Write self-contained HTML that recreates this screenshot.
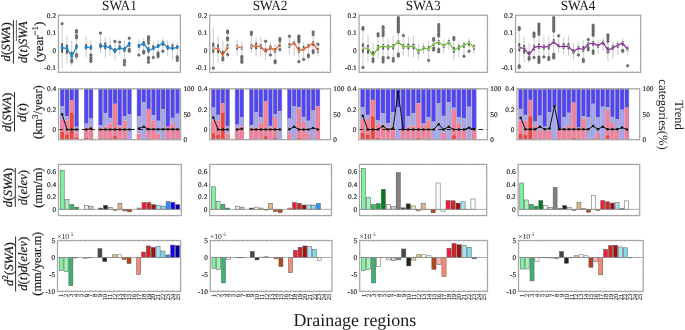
<!DOCTYPE html>
<html><head><meta charset="utf-8"><style>
html,body{margin:0;padding:0;background:#fff;}
body{width:685px;height:330px;overflow:hidden;}
svg{display:block;will-change:transform;text-rendering:geometricPrecision;}
</style></head><body>
<svg xmlns="http://www.w3.org/2000/svg" width="685" height="330" viewBox="0 0 685 330" font-family='"Liberation Serif", serif' fill="#1a1a1a"><rect width="685" height="330" fill="#fff"/><g><path d="M62.1 26.5V68.2M66.9 35.3V63.4M71.7 41V66M76.5 30V60M86.09 35.8V57.6M90.89 40.4V62.2M100.49 33.1V53M105.29 36.7V57.6M110.09 37.6V55.8M114.89 41.3V59.5M119.69 42.2V55M124.49 40V58M129.29 38.2V52M138.89 39.5V52M143.69 37.6V50M148.48 36.7V57M153.28 42V56M158.08 40V52M162.88 37V50M167.68 40V56M172.48 42V60M177.28 42V55" stroke="#c4c4c4" stroke-width="0.9" fill="none"/><rect x="61.1" y="43" width="2.0" height="10" rx="0.8" fill="#5e5e5e"/><circle cx="62.1" cy="23.8" r="1.25" fill="#7c7c7c" stroke="#484848" stroke-width="0.55"/><rect x="65.9" y="44.5" width="2.0" height="9.5" rx="0.8" fill="#5e5e5e"/><rect x="70.7" y="51.5" width="2.0" height="4" rx="0.8" fill="#5e5e5e"/><circle cx="71.7" cy="59.9" r="1.25" fill="#7c7c7c" stroke="#484848" stroke-width="0.55"/><circle cx="71.7" cy="61.8" r="1.25" fill="#7c7c7c" stroke="#484848" stroke-width="0.55"/><rect x="75.5" y="44" width="2.0" height="5" rx="0.8" fill="#5e5e5e"/><circle cx="76.5" cy="30.6" r="1.25" fill="#7c7c7c" stroke="#484848" stroke-width="0.55"/><circle cx="76.5" cy="32.3" r="1.25" fill="#7c7c7c" stroke="#484848" stroke-width="0.55"/><circle cx="76.5" cy="35.8" r="1.25" fill="#7c7c7c" stroke="#484848" stroke-width="0.55"/><circle cx="76.5" cy="37.8" r="1.25" fill="#7c7c7c" stroke="#484848" stroke-width="0.55"/><circle cx="76.5" cy="54.6" r="1.25" fill="#7c7c7c" stroke="#484848" stroke-width="0.55"/><circle cx="76.5" cy="56.3" r="1.25" fill="#7c7c7c" stroke="#484848" stroke-width="0.55"/><rect x="85.09" y="44" width="2.0" height="5.5" rx="0.8" fill="#5e5e5e"/><rect x="89.89" y="45" width="2.0" height="5" rx="0.8" fill="#5e5e5e"/><circle cx="90.89" cy="55" r="1.25" fill="#7c7c7c" stroke="#484848" stroke-width="0.55"/><circle cx="90.89" cy="57.5" r="1.25" fill="#7c7c7c" stroke="#484848" stroke-width="0.55"/><circle cx="90.89" cy="59.5" r="1.25" fill="#7c7c7c" stroke="#484848" stroke-width="0.55"/><circle cx="90.89" cy="61.5" r="1.25" fill="#7c7c7c" stroke="#484848" stroke-width="0.55"/><rect x="99.49" y="43" width="2.0" height="5.5" rx="0.8" fill="#5e5e5e"/><circle cx="100.49" cy="33.1" r="1.25" fill="#7c7c7c" stroke="#484848" stroke-width="0.55"/><rect x="104.29" y="42.2" width="2.0" height="7.3" rx="0.8" fill="#5e5e5e"/><rect x="109.09" y="45" width="2.0" height="4.5" rx="0.8" fill="#5e5e5e"/><rect x="113.89" y="48" width="2.0" height="5" rx="0.8" fill="#5e5e5e"/><circle cx="114.89" cy="41.3" r="1.25" fill="#7c7c7c" stroke="#484848" stroke-width="0.55"/><rect x="118.69" y="45" width="2.0" height="5" rx="0.8" fill="#5e5e5e"/><circle cx="119.69" cy="42.2" r="1.25" fill="#7c7c7c" stroke="#484848" stroke-width="0.55"/><rect x="123.49" y="47" width="2.0" height="5" rx="0.8" fill="#5e5e5e"/><circle cx="124.49" cy="60.4" r="1.25" fill="#7c7c7c" stroke="#484848" stroke-width="0.55"/><circle cx="124.49" cy="62.5" r="1.25" fill="#7c7c7c" stroke="#484848" stroke-width="0.55"/><circle cx="124.49" cy="64.9" r="1.25" fill="#7c7c7c" stroke="#484848" stroke-width="0.55"/><rect x="128.29" y="42" width="2.0" height="5" rx="0.8" fill="#5e5e5e"/><circle cx="129.29" cy="38.2" r="1.25" fill="#7c7c7c" stroke="#484848" stroke-width="0.55"/><circle cx="129.29" cy="49.5" r="1.25" fill="#7c7c7c" stroke="#484848" stroke-width="0.55"/><circle cx="129.29" cy="51.3" r="1.25" fill="#7c7c7c" stroke="#484848" stroke-width="0.55"/><rect x="137.89" y="44" width="2.0" height="4" rx="0.8" fill="#5e5e5e"/><circle cx="138.89" cy="55" r="1.25" fill="#7c7c7c" stroke="#484848" stroke-width="0.55"/><rect x="142.69" y="41" width="2.0" height="5" rx="0.8" fill="#5e5e5e"/><circle cx="143.69" cy="51.3" r="1.25" fill="#7c7c7c" stroke="#484848" stroke-width="0.55"/><circle cx="143.69" cy="53" r="1.25" fill="#7c7c7c" stroke="#484848" stroke-width="0.55"/><rect x="147.48" y="47" width="2.0" height="6" rx="0.8" fill="#5e5e5e"/><circle cx="148.48" cy="36.7" r="1.25" fill="#7c7c7c" stroke="#484848" stroke-width="0.55"/><circle cx="148.48" cy="38.5" r="1.25" fill="#7c7c7c" stroke="#484848" stroke-width="0.55"/><circle cx="148.48" cy="40.5" r="1.25" fill="#7c7c7c" stroke="#484848" stroke-width="0.55"/><circle cx="148.48" cy="43.1" r="1.25" fill="#7c7c7c" stroke="#484848" stroke-width="0.55"/><circle cx="148.48" cy="57.6" r="1.25" fill="#7c7c7c" stroke="#484848" stroke-width="0.55"/><circle cx="148.48" cy="59.5" r="1.25" fill="#7c7c7c" stroke="#484848" stroke-width="0.55"/><circle cx="148.48" cy="62.2" r="1.25" fill="#7c7c7c" stroke="#484848" stroke-width="0.55"/><rect x="152.28" y="45" width="2.0" height="5" rx="0.8" fill="#5e5e5e"/><circle cx="153.28" cy="57.6" r="1.25" fill="#7c7c7c" stroke="#484848" stroke-width="0.55"/><rect x="157.08" y="44" width="2.0" height="4" rx="0.8" fill="#5e5e5e"/><circle cx="158.08" cy="53" r="1.25" fill="#7c7c7c" stroke="#484848" stroke-width="0.55"/><circle cx="158.08" cy="55" r="1.25" fill="#7c7c7c" stroke="#484848" stroke-width="0.55"/><circle cx="158.08" cy="56.7" r="1.25" fill="#7c7c7c" stroke="#484848" stroke-width="0.55"/><rect x="161.88" y="41" width="2.0" height="5" rx="0.8" fill="#5e5e5e"/><circle cx="162.88" cy="51.3" r="1.25" fill="#7c7c7c" stroke="#484848" stroke-width="0.55"/><rect x="166.68" y="45" width="2.0" height="5" rx="0.8" fill="#5e5e5e"/><rect x="171.48" y="44" width="2.0" height="6" rx="0.8" fill="#5e5e5e"/><rect x="176.28" y="45" width="2.0" height="4" rx="0.8" fill="#5e5e5e"/><circle cx="177.28" cy="56.7" r="1.25" fill="#7c7c7c" stroke="#484848" stroke-width="0.55"/><circle cx="177.28" cy="58.5" r="1.25" fill="#7c7c7c" stroke="#484848" stroke-width="0.55"/><circle cx="177.28" cy="60.4" r="1.25" fill="#7c7c7c" stroke="#484848" stroke-width="0.55"/><polyline points="62.1,47.8 66.9,48.3 71.7,56.8 76.5,46.7" fill="none" stroke="#1a86cf" stroke-width="1.3" stroke-linejoin="round"/><circle cx="62.1" cy="47.8" r="1.45" fill="#1a86cf"/><circle cx="66.9" cy="48.3" r="1.45" fill="#1a86cf"/><circle cx="71.7" cy="56.8" r="1.45" fill="#1a86cf"/><circle cx="76.5" cy="46.7" r="1.45" fill="#1a86cf"/><polyline points="86.09,47.2 90.89,47.8" fill="none" stroke="#1a86cf" stroke-width="1.3" stroke-linejoin="round"/><circle cx="86.09" cy="47.2" r="1.45" fill="#1a86cf"/><circle cx="90.89" cy="47.8" r="1.45" fill="#1a86cf"/><polyline points="100.49,45.8 105.29,46.4 110.09,47.6 114.89,51.3 119.69,47.6 124.49,49.5 129.29,43.5" fill="none" stroke="#1a86cf" stroke-width="1.3" stroke-linejoin="round"/><circle cx="100.49" cy="45.8" r="1.45" fill="#1a86cf"/><circle cx="105.29" cy="46.4" r="1.45" fill="#1a86cf"/><circle cx="110.09" cy="47.6" r="1.45" fill="#1a86cf"/><circle cx="114.89" cy="51.3" r="1.45" fill="#1a86cf"/><circle cx="119.69" cy="47.6" r="1.45" fill="#1a86cf"/><circle cx="124.49" cy="49.5" r="1.45" fill="#1a86cf"/><circle cx="129.29" cy="43.5" r="1.45" fill="#1a86cf"/><polyline points="138.89,45.8 143.69,43.1 148.48,50.4 153.28,48.5 158.08,46.2 162.88,43.1 167.68,47.6 172.48,48.5 177.28,47.3" fill="none" stroke="#1a86cf" stroke-width="1.3" stroke-linejoin="round"/><circle cx="138.89" cy="45.8" r="1.45" fill="#1a86cf"/><circle cx="143.69" cy="43.1" r="1.45" fill="#1a86cf"/><circle cx="148.48" cy="50.4" r="1.45" fill="#1a86cf"/><circle cx="153.28" cy="48.5" r="1.45" fill="#1a86cf"/><circle cx="158.08" cy="46.2" r="1.45" fill="#1a86cf"/><circle cx="162.88" cy="43.1" r="1.45" fill="#1a86cf"/><circle cx="167.68" cy="47.6" r="1.45" fill="#1a86cf"/><circle cx="172.48" cy="48.5" r="1.45" fill="#1a86cf"/><circle cx="177.28" cy="47.3" r="1.45" fill="#1a86cf"/></g><rect x="58.45" y="15.2" width="121.95" height="57.2" fill="none" stroke="#a6a6a6" stroke-width="1.25"/><path d="M62.1 72.4v-1.2M62.1 15.2v1.2M66.9 72.4v-1.2M66.9 15.2v1.2M71.7 72.4v-1.2M71.7 15.2v1.2M76.5 72.4v-1.2M76.5 15.2v1.2M81.29 72.4v-1.2M81.29 15.2v1.2M86.09 72.4v-1.2M86.09 15.2v1.2M90.89 72.4v-1.2M90.89 15.2v1.2M95.69 72.4v-1.2M95.69 15.2v1.2M100.49 72.4v-1.2M100.49 15.2v1.2M105.29 72.4v-1.2M105.29 15.2v1.2M110.09 72.4v-1.2M110.09 15.2v1.2M114.89 72.4v-1.2M114.89 15.2v1.2M119.69 72.4v-1.2M119.69 15.2v1.2M124.49 72.4v-1.2M124.49 15.2v1.2M129.29 72.4v-1.2M129.29 15.2v1.2M134.09 72.4v-1.2M134.09 15.2v1.2M138.89 72.4v-1.2M138.89 15.2v1.2M143.69 72.4v-1.2M143.69 15.2v1.2M148.48 72.4v-1.2M148.48 15.2v1.2M153.28 72.4v-1.2M153.28 15.2v1.2M158.08 72.4v-1.2M158.08 15.2v1.2M162.88 72.4v-1.2M162.88 15.2v1.2M167.68 72.4v-1.2M167.68 15.2v1.2M172.48 72.4v-1.2M172.48 15.2v1.2M177.28 72.4v-1.2M177.28 15.2v1.2M58.45 15.2h1.2M180.4 15.2h-1.2M58.45 32.8h1.2M180.4 32.8h-1.2M58.45 50.4h1.2M180.4 50.4h-1.2M58.45 68h1.2M180.4 68h-1.2" stroke="#a6a6a6" stroke-width="0.6" fill="none"/><text transform="translate(56.05,17.65) scale(1.05,1)" text-anchor="end" font-size="7.0" stroke="#1a1a1a" stroke-width="0.16">0.2</text><text transform="translate(56.05,35.25) scale(1.05,1)" text-anchor="end" font-size="7.0" stroke="#1a1a1a" stroke-width="0.16">0.1</text><text transform="translate(56.05,52.85) scale(1.05,1)" text-anchor="end" font-size="7.0" stroke="#1a1a1a" stroke-width="0.16">0</text><text transform="translate(56.05,70.45) scale(1.05,1)" text-anchor="end" font-size="7.0" stroke="#1a1a1a" stroke-width="0.16">-0.1</text><text transform="translate(119.43,10.35) scale(0.955,1)" text-anchor="middle" font-size="14.0">SWA1</text><rect x="60.16" y="88.8" width="3.99" height="17.4" fill="#5143f7"/><rect x="60.16" y="106.2" width="3.99" height="13.1" fill="#a7a6f4"/><rect x="60.16" y="119.3" width="3.99" height="12.4" fill="#fc7c9e"/><rect x="60.16" y="131.7" width="3.99" height="8" fill="#f5433f"/><rect x="60.16" y="88.8" width="3.99" height="50.9" fill="none" stroke="#8c8c8c" stroke-width="0.45"/><rect x="64.96" y="88.8" width="3.99" height="27.3" fill="#5143f7"/><rect x="64.96" y="116.1" width="3.99" height="4.4" fill="#a7a6f4"/><rect x="64.96" y="120.5" width="3.99" height="13.7" fill="#fc7c9e"/><rect x="64.96" y="134.2" width="3.99" height="5.5" fill="#f5433f"/><rect x="64.96" y="88.8" width="3.99" height="50.9" fill="none" stroke="#8c8c8c" stroke-width="0.45"/><rect x="69.77" y="88.8" width="3.99" height="11.2" fill="#5143f7"/><rect x="69.77" y="100" width="3.99" height="12.4" fill="#fc7c9e"/><rect x="69.77" y="112.4" width="3.99" height="27.3" fill="#f5433f"/><rect x="69.77" y="88.8" width="3.99" height="50.9" fill="none" stroke="#8c8c8c" stroke-width="0.45"/><rect x="74.57" y="88.8" width="3.99" height="37.9" fill="#5143f7"/><rect x="74.57" y="126.7" width="3.99" height="5.8" fill="#a7a6f4"/><rect x="74.57" y="132.5" width="3.99" height="4.8" fill="#fc7c9e"/><rect x="74.57" y="137.3" width="3.99" height="2.4" fill="#f5433f"/><rect x="74.57" y="88.8" width="3.99" height="50.9" fill="none" stroke="#8c8c8c" stroke-width="0.45"/><rect x="84.18" y="88.8" width="3.99" height="34.8" fill="#5143f7"/><rect x="84.18" y="123.6" width="3.99" height="4.4" fill="#a7a6f4"/><rect x="84.18" y="128" width="3.99" height="9.9" fill="#fc7c9e"/><rect x="84.18" y="137.9" width="3.99" height="1.8" fill="#f5433f"/><rect x="84.18" y="88.8" width="3.99" height="50.9" fill="none" stroke="#8c8c8c" stroke-width="0.45"/><rect x="88.99" y="88.8" width="3.99" height="29.8" fill="#5143f7"/><rect x="88.99" y="118.6" width="3.99" height="8.7" fill="#a7a6f4"/><rect x="88.99" y="127.3" width="3.99" height="11.8" fill="#fc7c9e"/><rect x="88.99" y="139.1" width="3.99" height="0.6" fill="#f5433f"/><rect x="88.99" y="88.8" width="3.99" height="50.9" fill="none" stroke="#8c8c8c" stroke-width="0.45"/><rect x="98.6" y="88.8" width="3.99" height="36.2" fill="#5143f7"/><rect x="98.6" y="125" width="3.99" height="3.4" fill="#a7a6f4"/><rect x="98.6" y="128.4" width="3.99" height="9.9" fill="#fc7c9e"/><rect x="98.6" y="138.3" width="3.99" height="1.4" fill="#f5433f"/><rect x="98.6" y="88.8" width="3.99" height="50.9" fill="none" stroke="#8c8c8c" stroke-width="0.45"/><rect x="103.4" y="88.8" width="3.99" height="24.4" fill="#5143f7"/><rect x="103.4" y="113.2" width="3.99" height="13.5" fill="#a7a6f4"/><rect x="103.4" y="126.7" width="3.99" height="11.9" fill="#fc7c9e"/><rect x="103.4" y="138.6" width="3.99" height="1.1" fill="#f5433f"/><rect x="103.4" y="88.8" width="3.99" height="50.9" fill="none" stroke="#8c8c8c" stroke-width="0.45"/><rect x="108.21" y="88.8" width="3.99" height="29.1" fill="#5143f7"/><rect x="108.21" y="117.9" width="3.99" height="5.5" fill="#a7a6f4"/><rect x="108.21" y="123.4" width="3.99" height="14.9" fill="#fc7c9e"/><rect x="108.21" y="138.3" width="3.99" height="1.4" fill="#f5433f"/><rect x="108.21" y="88.8" width="3.99" height="50.9" fill="none" stroke="#8c8c8c" stroke-width="0.45"/><rect x="113.01" y="88.8" width="3.99" height="15" fill="#5143f7"/><rect x="113.01" y="103.8" width="3.99" height="32.3" fill="#fc7c9e"/><rect x="113.01" y="136.1" width="3.99" height="3.6" fill="#f5433f"/><rect x="113.01" y="88.8" width="3.99" height="50.9" fill="none" stroke="#8c8c8c" stroke-width="0.45"/><rect x="117.82" y="88.8" width="3.99" height="36.8" fill="#5143f7"/><rect x="117.82" y="125.6" width="3.99" height="1.1" fill="#a7a6f4"/><rect x="117.82" y="126.7" width="3.99" height="11.9" fill="#fc7c9e"/><rect x="117.82" y="138.6" width="3.99" height="1.1" fill="#f5433f"/><rect x="117.82" y="88.8" width="3.99" height="50.9" fill="none" stroke="#8c8c8c" stroke-width="0.45"/><rect x="122.63" y="88.8" width="3.99" height="27.2" fill="#5143f7"/><rect x="122.63" y="116" width="3.99" height="4.8" fill="#a7a6f4"/><rect x="122.63" y="120.8" width="3.99" height="17.5" fill="#fc7c9e"/><rect x="122.63" y="138.3" width="3.99" height="1.4" fill="#f5433f"/><rect x="122.63" y="88.8" width="3.99" height="50.9" fill="none" stroke="#8c8c8c" stroke-width="0.45"/><rect x="127.43" y="88.8" width="3.99" height="25.2" fill="#5143f7"/><rect x="127.43" y="114" width="3.99" height="25.7" fill="#a7a6f4"/><rect x="127.43" y="88.8" width="3.99" height="50.9" fill="none" stroke="#8c8c8c" stroke-width="0.45"/><rect x="137.04" y="88.8" width="3.99" height="27.4" fill="#5143f7"/><rect x="137.04" y="116.2" width="3.99" height="17.3" fill="#a7a6f4"/><rect x="137.04" y="133.5" width="3.99" height="5.1" fill="#fc7c9e"/><rect x="137.04" y="138.6" width="3.99" height="1.1" fill="#f5433f"/><rect x="137.04" y="88.8" width="3.99" height="50.9" fill="none" stroke="#8c8c8c" stroke-width="0.45"/><rect x="141.85" y="88.8" width="3.99" height="13.3" fill="#5143f7"/><rect x="141.85" y="102.1" width="3.99" height="37.6" fill="#a7a6f4"/><rect x="141.85" y="88.8" width="3.99" height="50.9" fill="none" stroke="#8c8c8c" stroke-width="0.45"/><rect x="146.65" y="88.8" width="3.99" height="20.1" fill="#5143f7"/><rect x="146.65" y="108.9" width="3.99" height="29.7" fill="#fc7c9e"/><rect x="146.65" y="138.6" width="3.99" height="1.1" fill="#f5433f"/><rect x="146.65" y="88.8" width="3.99" height="50.9" fill="none" stroke="#8c8c8c" stroke-width="0.45"/><rect x="151.46" y="88.8" width="3.99" height="26.4" fill="#5143f7"/><rect x="151.46" y="115.2" width="3.99" height="5.6" fill="#a7a6f4"/><rect x="151.46" y="120.8" width="3.99" height="17.8" fill="#fc7c9e"/><rect x="151.46" y="138.6" width="3.99" height="1.1" fill="#f5433f"/><rect x="151.46" y="88.8" width="3.99" height="50.9" fill="none" stroke="#8c8c8c" stroke-width="0.45"/><rect x="156.26" y="88.8" width="3.99" height="32" fill="#5143f7"/><rect x="156.26" y="120.8" width="3.99" height="12.7" fill="#a7a6f4"/><rect x="156.26" y="133.5" width="3.99" height="5.1" fill="#fc7c9e"/><rect x="156.26" y="138.6" width="3.99" height="1.1" fill="#f5433f"/><rect x="156.26" y="88.8" width="3.99" height="50.9" fill="none" stroke="#8c8c8c" stroke-width="0.45"/><rect x="161.07" y="88.8" width="3.99" height="20.5" fill="#5143f7"/><rect x="161.07" y="109.3" width="3.99" height="30.4" fill="#a7a6f4"/><rect x="161.07" y="88.8" width="3.99" height="50.9" fill="none" stroke="#8c8c8c" stroke-width="0.45"/><rect x="165.87" y="88.8" width="3.99" height="37.9" fill="#5143f7"/><rect x="165.87" y="126.7" width="3.99" height="13" fill="#fc7c9e"/><rect x="165.87" y="88.8" width="3.99" height="50.9" fill="none" stroke="#8c8c8c" stroke-width="0.45"/><rect x="170.68" y="88.8" width="3.99" height="29.1" fill="#5143f7"/><rect x="170.68" y="117.9" width="3.99" height="5.5" fill="#a7a6f4"/><rect x="170.68" y="123.4" width="3.99" height="16.3" fill="#fc7c9e"/><rect x="170.68" y="88.8" width="3.99" height="50.9" fill="none" stroke="#8c8c8c" stroke-width="0.45"/><rect x="175.48" y="88.8" width="3.99" height="24.9" fill="#5143f7"/><rect x="175.48" y="113.7" width="3.99" height="14.7" fill="#a7a6f4"/><rect x="175.48" y="128.4" width="3.99" height="11.3" fill="#fc7c9e"/><rect x="175.48" y="88.8" width="3.99" height="50.9" fill="none" stroke="#8c8c8c" stroke-width="0.45"/><line x1="58.5" x2="180.6" y1="129.52" y2="129.52" stroke="#111" stroke-width="0.9" stroke-dasharray="4.9 3.1" stroke-dashoffset="0.5"/><polyline points="62.15,114.3 66.96,129.5 71.76,129.5 76.57,129.5" fill="none" stroke="#111" stroke-width="1"/><circle cx="62.15" cy="114.3" r="1.25" fill="#111"/><circle cx="66.96" cy="129.5" r="1.25" fill="#111"/><circle cx="71.76" cy="129.5" r="1.25" fill="#111"/><circle cx="76.57" cy="129.5" r="1.25" fill="#111"/><polyline points="86.18,129.5 90.98,128.6" fill="none" stroke="#111" stroke-width="1"/><circle cx="86.18" cy="129.5" r="1.25" fill="#111"/><circle cx="90.98" cy="128.6" r="1.25" fill="#111"/><polyline points="100.59,129.5 105.4,129.5 110.2,129.5 115.01,129.5 119.81,129.5 124.62,129.5 129.42,129.5" fill="none" stroke="#111" stroke-width="1"/><circle cx="100.59" cy="129.5" r="1.25" fill="#111"/><circle cx="105.4" cy="129.5" r="1.25" fill="#111"/><circle cx="110.2" cy="129.5" r="1.25" fill="#111"/><circle cx="115.01" cy="129.5" r="1.25" fill="#111"/><circle cx="119.81" cy="129.5" r="1.25" fill="#111"/><circle cx="124.62" cy="129.5" r="1.25" fill="#111"/><circle cx="129.42" cy="129.5" r="1.25" fill="#111"/><polyline points="139.04,128.4 143.84,126.7 148.65,129.3 153.45,129.3 158.26,129.3 163.06,129.3 167.87,129.3 172.67,129.3 177.48,129.3" fill="none" stroke="#111" stroke-width="1"/><circle cx="139.04" cy="128.4" r="1.25" fill="#111"/><circle cx="143.84" cy="126.7" r="1.25" fill="#111"/><circle cx="148.65" cy="129.3" r="1.25" fill="#111"/><circle cx="153.45" cy="129.3" r="1.25" fill="#111"/><circle cx="158.26" cy="129.3" r="1.25" fill="#111"/><circle cx="163.06" cy="129.3" r="1.25" fill="#111"/><circle cx="167.87" cy="129.3" r="1.25" fill="#111"/><circle cx="172.67" cy="129.3" r="1.25" fill="#111"/><circle cx="177.48" cy="129.3" r="1.25" fill="#111"/><rect x="58.5" y="88.8" width="122.1" height="50.9" fill="none" stroke="#a6a6a6" stroke-width="1.25"/><path d="M62.15 139.7v-1.2M62.15 88.8v1.2M66.96 139.7v-1.2M66.96 88.8v1.2M71.76 139.7v-1.2M71.76 88.8v1.2M76.57 139.7v-1.2M76.57 88.8v1.2M81.37 139.7v-1.2M81.37 88.8v1.2M86.18 139.7v-1.2M86.18 88.8v1.2M90.98 139.7v-1.2M90.98 88.8v1.2M95.79 139.7v-1.2M95.79 88.8v1.2M100.59 139.7v-1.2M100.59 88.8v1.2M105.4 139.7v-1.2M105.4 88.8v1.2M110.2 139.7v-1.2M110.2 88.8v1.2M115.01 139.7v-1.2M115.01 88.8v1.2M119.81 139.7v-1.2M119.81 88.8v1.2M124.62 139.7v-1.2M124.62 88.8v1.2M129.42 139.7v-1.2M129.42 88.8v1.2M134.23 139.7v-1.2M134.23 88.8v1.2M139.04 139.7v-1.2M139.04 88.8v1.2M143.84 139.7v-1.2M143.84 88.8v1.2M148.65 139.7v-1.2M148.65 88.8v1.2M153.45 139.7v-1.2M153.45 88.8v1.2M158.26 139.7v-1.2M158.26 88.8v1.2M163.06 139.7v-1.2M163.06 88.8v1.2M167.87 139.7v-1.2M167.87 88.8v1.2M172.67 139.7v-1.2M172.67 88.8v1.2M177.48 139.7v-1.2M177.48 88.8v1.2M58.5 88.8h1.2M58.5 109.16h1.2M58.5 129.52h1.2M180.6 139.7h-1.2M180.6 114.25h-1.2M180.6 88.8h-1.2" stroke="#a6a6a6" stroke-width="0.6" fill="none"/><text transform="translate(56.1,91.25) scale(1.05,1)" text-anchor="end" font-size="7.0" stroke="#1a1a1a" stroke-width="0.16">0.4</text><text transform="translate(56.1,111.61) scale(1.05,1)" text-anchor="end" font-size="7.0" stroke="#1a1a1a" stroke-width="0.16">0.2</text><text transform="translate(56.1,131.97) scale(1.05,1)" text-anchor="end" font-size="7.0" stroke="#1a1a1a" stroke-width="0.16">0</text><text transform="translate(183.4,91.25) scale(1.05,1)" font-size="7.0" stroke="#1a1a1a" stroke-width="0.16">100</text><text transform="translate(183.4,116.7) scale(1.05,1)" font-size="7.0" stroke="#1a1a1a" stroke-width="0.16">50</text><text transform="translate(183.4,142.15) scale(1.05,1)" font-size="7.0" stroke="#1a1a1a" stroke-width="0.16">0</text><rect x="60.21" y="170.17" width="3.99" height="39.17" fill="#7ef29c" stroke="#555" stroke-width="0.5"/><rect x="65.02" y="199.62" width="3.99" height="9.71" fill="#a4f4b8" stroke="#555" stroke-width="0.5"/><rect x="69.83" y="204.51" width="3.99" height="4.83" fill="#3cb371" stroke="#555" stroke-width="0.5"/><rect x="74.64" y="207.2" width="3.99" height="2.13" fill="#16a83c" stroke="#555" stroke-width="0.5"/><rect x="84.27" y="205.32" width="3.99" height="4.01" fill="#f2f2f2" stroke="#555" stroke-width="0.5"/><rect x="89.08" y="206.2" width="3.99" height="3.13" fill="#d2d2d2" stroke="#555" stroke-width="0.5"/><rect x="98.7" y="208.08" width="3.99" height="1.25" fill="#474747" stroke="#555" stroke-width="0.5"/><rect x="103.52" y="205.32" width="3.99" height="4.01" fill="#222222" stroke="#555" stroke-width="0.5"/><rect x="108.33" y="207.33" width="3.99" height="2.01" fill="#f5e2b0" stroke="#555" stroke-width="0.5"/><rect x="113.14" y="209.33" width="3.99" height="1.25" fill="#c8b496" stroke="#555" stroke-width="0.5"/><rect x="117.95" y="203.32" width="3.99" height="6.02" fill="#deb887" stroke="#555" stroke-width="0.5"/><rect x="122.76" y="209.33" width="3.99" height="1.57" fill="#d2541e" stroke="#555" stroke-width="0.5"/><rect x="127.58" y="209.33" width="3.99" height="2.51" fill="#b4461a" stroke="#555" stroke-width="0.5"/><rect x="137.2" y="208.08" width="3.99" height="1.25" fill="#f08c78" stroke="#555" stroke-width="0.5"/><rect x="142.01" y="202.44" width="3.99" height="6.89" fill="#f01e3c" stroke="#555" stroke-width="0.5"/><rect x="146.82" y="202.44" width="3.99" height="6.89" fill="#d42424" stroke="#555" stroke-width="0.5"/><rect x="151.63" y="204.7" width="3.99" height="4.64" fill="#a01010" stroke="#555" stroke-width="0.5"/><rect x="156.45" y="205.26" width="3.99" height="4.07" fill="#a8e2f8" stroke="#555" stroke-width="0.5"/><rect x="161.26" y="206.07" width="3.99" height="3.26" fill="#80dcec" stroke="#555" stroke-width="0.5"/><rect x="166.07" y="201.69" width="3.99" height="7.65" fill="#2890f0" stroke="#555" stroke-width="0.5"/><rect x="170.88" y="202.25" width="3.99" height="7.08" fill="#1400ff" stroke="#555" stroke-width="0.5"/><rect x="175.69" y="204.7" width="3.99" height="4.64" fill="#0000a0" stroke="#555" stroke-width="0.5"/><line x1="58.5" x2="181.3" y1="209.33" y2="209.33" stroke="#8a8a8a" stroke-width="0.7"/><rect x="58.5" y="164.4" width="122.8" height="51.2" fill="none" stroke="#a6a6a6" stroke-width="1.25"/><path d="M62.21 215.6v-1.2M62.21 164.4v1.2M67.02 215.6v-1.2M67.02 164.4v1.2M71.83 215.6v-1.2M71.83 164.4v1.2M76.64 215.6v-1.2M76.64 164.4v1.2M81.45 215.6v-1.2M81.45 164.4v1.2M86.26 215.6v-1.2M86.26 164.4v1.2M91.08 215.6v-1.2M91.08 164.4v1.2M95.89 215.6v-1.2M95.89 164.4v1.2M100.7 215.6v-1.2M100.7 164.4v1.2M105.51 215.6v-1.2M105.51 164.4v1.2M110.32 215.6v-1.2M110.32 164.4v1.2M115.14 215.6v-1.2M115.14 164.4v1.2M119.95 215.6v-1.2M119.95 164.4v1.2M124.76 215.6v-1.2M124.76 164.4v1.2M129.57 215.6v-1.2M129.57 164.4v1.2M134.38 215.6v-1.2M134.38 164.4v1.2M139.2 215.6v-1.2M139.2 164.4v1.2M144.01 215.6v-1.2M144.01 164.4v1.2M148.82 215.6v-1.2M148.82 164.4v1.2M153.63 215.6v-1.2M153.63 164.4v1.2M158.44 215.6v-1.2M158.44 164.4v1.2M163.26 215.6v-1.2M163.26 164.4v1.2M168.07 215.6v-1.2M168.07 164.4v1.2M172.88 215.6v-1.2M172.88 164.4v1.2M177.69 215.6v-1.2M177.69 164.4v1.2M58.5 171.73h1.2M181.3 171.73h-1.2M58.5 184.27h1.2M181.3 184.27h-1.2M58.5 196.8h1.2M181.3 196.8h-1.2M58.5 209.33h1.2M181.3 209.33h-1.2" stroke="#a6a6a6" stroke-width="0.6" fill="none"/><text transform="translate(56.1,174.18) scale(1.05,1)" text-anchor="end" font-size="7.0" stroke="#1a1a1a" stroke-width="0.16">0.6</text><text transform="translate(56.1,186.72) scale(1.05,1)" text-anchor="end" font-size="7.0" stroke="#1a1a1a" stroke-width="0.16">0.4</text><text transform="translate(56.1,199.25) scale(1.05,1)" text-anchor="end" font-size="7.0" stroke="#1a1a1a" stroke-width="0.16">0.2</text><text transform="translate(56.1,211.78) scale(1.05,1)" text-anchor="end" font-size="7.0" stroke="#1a1a1a" stroke-width="0.16">0</text><rect x="59.17" y="257.47" width="4.02" height="12.89" fill="#7ef29c" stroke="#555" stroke-width="0.5"/><rect x="64.02" y="257.47" width="4.02" height="13.91" fill="#a4f4b8" stroke="#555" stroke-width="0.5"/><rect x="68.86" y="257.47" width="4.02" height="28.16" fill="#3cb371" stroke="#555" stroke-width="0.5"/><rect x="73.71" y="257.47" width="4.02" height="0.51" fill="#ffffff" stroke="#555" stroke-width="0.5"/><rect x="83.39" y="257.47" width="4.02" height="1.02" fill="#f2f2f2" stroke="#555" stroke-width="0.5"/><rect x="88.24" y="257.47" width="4.02" height="0.34" fill="#d2d2d2" stroke="#555" stroke-width="0.5"/><rect x="97.93" y="248.64" width="4.02" height="8.82" fill="#474747" stroke="#555" stroke-width="0.5"/><rect x="102.77" y="257.47" width="4.02" height="4.07" fill="#222222" stroke="#555" stroke-width="0.5"/><rect x="107.62" y="257.3" width="4.02" height="0.3" fill="#f5e2b0" stroke="#555" stroke-width="0.5"/><rect x="112.46" y="254.75" width="4.02" height="2.71" fill="#f0c080" stroke="#555" stroke-width="0.5"/><rect x="117.31" y="254.75" width="4.02" height="2.71" fill="#ffffff" stroke="#555" stroke-width="0.5"/><rect x="122.15" y="257.47" width="4.02" height="2.04" fill="#d2541e" stroke="#555" stroke-width="0.5"/><rect x="127" y="257.47" width="4.02" height="6.11" fill="#b4461a" stroke="#555" stroke-width="0.5"/><rect x="136.68" y="257.47" width="4.02" height="17.14" fill="#f08c78" stroke="#555" stroke-width="0.5"/><rect x="141.53" y="252.04" width="4.02" height="5.43" fill="#f01e3c" stroke="#555" stroke-width="0.5"/><rect x="146.37" y="245.93" width="4.02" height="11.54" fill="#d42424" stroke="#555" stroke-width="0.5"/><rect x="151.22" y="247.29" width="4.02" height="10.18" fill="#a01010" stroke="#555" stroke-width="0.5"/><rect x="156.06" y="246.27" width="4.02" height="11.2" fill="#a8e2f8" stroke="#555" stroke-width="0.5"/><rect x="160.91" y="251.02" width="4.02" height="6.45" fill="#80dcec" stroke="#555" stroke-width="0.5"/><rect x="165.75" y="254.92" width="4.02" height="2.54" fill="#2890f0" stroke="#555" stroke-width="0.5"/><rect x="170.6" y="245.08" width="4.02" height="12.39" fill="#1400ff" stroke="#555" stroke-width="0.5"/><rect x="175.44" y="245.59" width="4.02" height="11.88" fill="#0000a0" stroke="#555" stroke-width="0.5"/><line x1="57.5" x2="180.6" y1="257.47" y2="257.47" stroke="#8a8a8a" stroke-width="0.7"/><rect x="57.5" y="240.5" width="123.1" height="50.9" fill="none" stroke="#a6a6a6" stroke-width="1.25"/><path d="M61.18 291.4v-1.2M61.18 240.5v1.2M66.03 291.4v-1.2M66.03 240.5v1.2M70.87 291.4v-1.2M70.87 240.5v1.2M75.72 291.4v-1.2M75.72 240.5v1.2M80.56 291.4v-1.2M80.56 240.5v1.2M85.4 291.4v-1.2M85.4 240.5v1.2M90.25 291.4v-1.2M90.25 240.5v1.2M95.09 291.4v-1.2M95.09 240.5v1.2M99.94 291.4v-1.2M99.94 240.5v1.2M104.78 291.4v-1.2M104.78 240.5v1.2M109.63 291.4v-1.2M109.63 240.5v1.2M114.47 291.4v-1.2M114.47 240.5v1.2M119.32 291.4v-1.2M119.32 240.5v1.2M124.16 291.4v-1.2M124.16 240.5v1.2M129.01 291.4v-1.2M129.01 240.5v1.2M133.85 291.4v-1.2M133.85 240.5v1.2M138.69 291.4v-1.2M138.69 240.5v1.2M143.54 291.4v-1.2M143.54 240.5v1.2M148.38 291.4v-1.2M148.38 240.5v1.2M153.23 291.4v-1.2M153.23 240.5v1.2M158.07 291.4v-1.2M158.07 240.5v1.2M162.92 291.4v-1.2M162.92 240.5v1.2M167.76 291.4v-1.2M167.76 240.5v1.2M172.61 291.4v-1.2M172.61 240.5v1.2M177.45 291.4v-1.2M177.45 240.5v1.2M57.5 240.5h1.2M180.6 240.5h-1.2M57.5 257.47h1.2M180.6 257.47h-1.2M57.5 274.43h1.2M180.6 274.43h-1.2M57.5 291.4h1.2M180.6 291.4h-1.2" stroke="#a6a6a6" stroke-width="0.6" fill="none"/><text transform="translate(55.1,242.95) scale(1.05,1)" text-anchor="end" font-size="7.0" stroke="#1a1a1a" stroke-width="0.16">5</text><text transform="translate(55.1,259.92) scale(1.05,1)" text-anchor="end" font-size="7.0" stroke="#1a1a1a" stroke-width="0.16">0</text><text transform="translate(55.1,276.88) scale(1.05,1)" text-anchor="end" font-size="7.0" stroke="#1a1a1a" stroke-width="0.16">-5</text><text transform="translate(55.1,293.85) scale(1.05,1)" text-anchor="end" font-size="7.0" stroke="#1a1a1a" stroke-width="0.16">-10</text><text x="57.2" y="238.5" font-size="7.6">×10<tspan dy="-2.8" font-size="5">-5</tspan></text><text transform="translate(63.38,293.8) rotate(-90)" text-anchor="end" font-size="6.4" stroke="#1a1a1a" stroke-width="0.1">1</text><text transform="translate(68.23,293.8) rotate(-90)" text-anchor="end" font-size="6.4" stroke="#1a1a1a" stroke-width="0.1">2</text><text transform="translate(73.07,293.8) rotate(-90)" text-anchor="end" font-size="6.4" stroke="#1a1a1a" stroke-width="0.1">3</text><text transform="translate(77.92,293.8) rotate(-90)" text-anchor="end" font-size="6.4" stroke="#1a1a1a" stroke-width="0.1">4</text><text transform="translate(82.76,293.8) rotate(-90)" text-anchor="end" font-size="6.4" stroke="#1a1a1a" stroke-width="0.1">5</text><text transform="translate(87.6,293.8) rotate(-90)" text-anchor="end" font-size="6.4" stroke="#1a1a1a" stroke-width="0.1">6</text><text transform="translate(92.45,293.8) rotate(-90)" text-anchor="end" font-size="6.4" stroke="#1a1a1a" stroke-width="0.1">7</text><text transform="translate(97.29,293.8) rotate(-90)" text-anchor="end" font-size="6.4" stroke="#1a1a1a" stroke-width="0.1">8</text><text transform="translate(102.14,293.8) rotate(-90)" text-anchor="end" font-size="6.4" stroke="#1a1a1a" stroke-width="0.1">9</text><text transform="translate(106.98,293.8) rotate(-90)" text-anchor="end" font-size="6.4" stroke="#1a1a1a" stroke-width="0.1">10</text><text transform="translate(111.83,293.8) rotate(-90)" text-anchor="end" font-size="6.4" stroke="#1a1a1a" stroke-width="0.1">11</text><text transform="translate(116.67,293.8) rotate(-90)" text-anchor="end" font-size="6.4" stroke="#1a1a1a" stroke-width="0.1">12</text><text transform="translate(121.52,293.8) rotate(-90)" text-anchor="end" font-size="6.4" stroke="#1a1a1a" stroke-width="0.1">13</text><text transform="translate(126.36,293.8) rotate(-90)" text-anchor="end" font-size="6.4" stroke="#1a1a1a" stroke-width="0.1">14</text><text transform="translate(131.21,293.8) rotate(-90)" text-anchor="end" font-size="6.4" stroke="#1a1a1a" stroke-width="0.1">15</text><text transform="translate(136.05,293.8) rotate(-90)" text-anchor="end" font-size="6.4" stroke="#1a1a1a" stroke-width="0.1">16</text><text transform="translate(140.89,293.8) rotate(-90)" text-anchor="end" font-size="6.4" stroke="#1a1a1a" stroke-width="0.1">17</text><text transform="translate(145.74,293.8) rotate(-90)" text-anchor="end" font-size="6.4" stroke="#1a1a1a" stroke-width="0.1">18</text><text transform="translate(150.58,293.8) rotate(-90)" text-anchor="end" font-size="6.4" stroke="#1a1a1a" stroke-width="0.1">19</text><text transform="translate(155.43,293.8) rotate(-90)" text-anchor="end" font-size="6.4" stroke="#1a1a1a" stroke-width="0.1">20</text><text transform="translate(160.27,293.8) rotate(-90)" text-anchor="end" font-size="6.4" stroke="#1a1a1a" stroke-width="0.1">21</text><text transform="translate(165.12,293.8) rotate(-90)" text-anchor="end" font-size="6.4" stroke="#1a1a1a" stroke-width="0.1">22</text><text transform="translate(169.96,293.8) rotate(-90)" text-anchor="end" font-size="6.4" stroke="#1a1a1a" stroke-width="0.1">23</text><text transform="translate(174.81,293.8) rotate(-90)" text-anchor="end" font-size="6.4" stroke="#1a1a1a" stroke-width="0.1">24</text><text transform="translate(179.65,293.8) rotate(-90)" text-anchor="end" font-size="6.4" stroke="#1a1a1a" stroke-width="0.1">25</text><g><path d="M213.31 27.6V68.5M218.07 35.8V62.2M222.82 40.4V64M227.58 31.3V57.5M237.08 39.5V56M241.84 41.3V62.2M251.35 32.2V53M256.1 37.6V56.7M260.85 36.7V56.7M265.61 41.3V60.4M270.36 42.2V56.7M275.12 44V63M279.87 38.5V52M289.38 36.2V55M294.13 39.5V55.8M298.89 35.8V61.7M303.64 42.2V59.5M308.39 43V57M313.15 32V53M317.9 44V56.7" stroke="#c4c4c4" stroke-width="0.9" fill="none"/><rect x="212.31" y="42.6" width="2.0" height="10.3" rx="0.8" fill="#5e5e5e"/><circle cx="213.31" cy="68.2" r="1.25" fill="#7c7c7c" stroke="#484848" stroke-width="0.55"/><rect x="217.07" y="44.2" width="2.0" height="9.3" rx="0.8" fill="#5e5e5e"/><rect x="221.82" y="50.7" width="2.0" height="4.4" rx="0.8" fill="#5e5e5e"/><circle cx="222.82" cy="57.6" r="1.25" fill="#7c7c7c" stroke="#484848" stroke-width="0.55"/><circle cx="222.82" cy="59.8" r="1.25" fill="#7c7c7c" stroke="#484848" stroke-width="0.55"/><rect x="226.58" y="44" width="2.0" height="5" rx="0.8" fill="#5e5e5e"/><circle cx="227.58" cy="31" r="1.25" fill="#7c7c7c" stroke="#484848" stroke-width="0.55"/><circle cx="227.58" cy="32.8" r="1.25" fill="#7c7c7c" stroke="#484848" stroke-width="0.55"/><circle cx="227.58" cy="38" r="1.25" fill="#7c7c7c" stroke="#484848" stroke-width="0.55"/><circle cx="227.58" cy="39.8" r="1.25" fill="#7c7c7c" stroke="#484848" stroke-width="0.55"/><circle cx="227.58" cy="54.6" r="1.25" fill="#7c7c7c" stroke="#484848" stroke-width="0.55"/><rect x="236.08" y="44.7" width="2.0" height="5" rx="0.8" fill="#5e5e5e"/><rect x="240.84" y="46" width="2.0" height="4" rx="0.8" fill="#5e5e5e"/><circle cx="241.84" cy="56.5" r="1.25" fill="#7c7c7c" stroke="#484848" stroke-width="0.55"/><circle cx="241.84" cy="58.3" r="1.25" fill="#7c7c7c" stroke="#484848" stroke-width="0.55"/><circle cx="241.84" cy="60.5" r="1.25" fill="#7c7c7c" stroke="#484848" stroke-width="0.55"/><circle cx="241.84" cy="62.3" r="1.25" fill="#7c7c7c" stroke="#484848" stroke-width="0.55"/><rect x="250.35" y="44" width="2.0" height="5" rx="0.8" fill="#5e5e5e"/><circle cx="251.35" cy="32.2" r="1.25" fill="#7c7c7c" stroke="#484848" stroke-width="0.55"/><circle cx="251.35" cy="34.3" r="1.25" fill="#7c7c7c" stroke="#484848" stroke-width="0.55"/><rect x="255.1" y="42.5" width="2.0" height="7" rx="0.8" fill="#5e5e5e"/><rect x="259.85" y="44" width="2.0" height="5" rx="0.8" fill="#5e5e5e"/><rect x="264.61" y="48" width="2.0" height="5" rx="0.8" fill="#5e5e5e"/><circle cx="265.61" cy="41.3" r="1.25" fill="#7c7c7c" stroke="#484848" stroke-width="0.55"/><rect x="269.36" y="45" width="2.0" height="5" rx="0.8" fill="#5e5e5e"/><circle cx="270.36" cy="54.9" r="1.25" fill="#7c7c7c" stroke="#484848" stroke-width="0.55"/><rect x="274.12" y="48" width="2.0" height="5" rx="0.8" fill="#5e5e5e"/><circle cx="275.12" cy="60.9" r="1.25" fill="#7c7c7c" stroke="#484848" stroke-width="0.55"/><circle cx="275.12" cy="62.7" r="1.25" fill="#7c7c7c" stroke="#484848" stroke-width="0.55"/><rect x="278.87" y="42" width="2.0" height="5" rx="0.8" fill="#5e5e5e"/><circle cx="279.87" cy="38.5" r="1.25" fill="#7c7c7c" stroke="#484848" stroke-width="0.55"/><circle cx="279.87" cy="40.4" r="1.25" fill="#7c7c7c" stroke="#484848" stroke-width="0.55"/><circle cx="279.87" cy="49.5" r="1.25" fill="#7c7c7c" stroke="#484848" stroke-width="0.55"/><rect x="288.38" y="43" width="2.0" height="5" rx="0.8" fill="#5e5e5e"/><circle cx="289.38" cy="36.2" r="1.25" fill="#7c7c7c" stroke="#484848" stroke-width="0.55"/><rect x="293.13" y="41" width="2.0" height="4" rx="0.8" fill="#5e5e5e"/><rect x="297.89" y="47" width="2.0" height="6" rx="0.8" fill="#5e5e5e"/><circle cx="298.89" cy="36" r="1.25" fill="#7c7c7c" stroke="#484848" stroke-width="0.55"/><circle cx="298.89" cy="37.5" r="1.25" fill="#7c7c7c" stroke="#484848" stroke-width="0.55"/><circle cx="298.89" cy="39" r="1.25" fill="#7c7c7c" stroke="#484848" stroke-width="0.55"/><circle cx="298.89" cy="40.5" r="1.25" fill="#7c7c7c" stroke="#484848" stroke-width="0.55"/><circle cx="298.89" cy="42" r="1.25" fill="#7c7c7c" stroke="#484848" stroke-width="0.55"/><circle cx="298.89" cy="61.7" r="1.25" fill="#7c7c7c" stroke="#484848" stroke-width="0.55"/><rect x="302.64" y="46" width="2.0" height="5" rx="0.8" fill="#5e5e5e"/><circle cx="303.64" cy="59.5" r="1.25" fill="#7c7c7c" stroke="#484848" stroke-width="0.55"/><rect x="307.39" y="44" width="2.0" height="4" rx="0.8" fill="#5e5e5e"/><circle cx="308.39" cy="55" r="1.25" fill="#7c7c7c" stroke="#484848" stroke-width="0.55"/><circle cx="308.39" cy="56.8" r="1.25" fill="#7c7c7c" stroke="#484848" stroke-width="0.55"/><rect x="312.15" y="41" width="2.0" height="5" rx="0.8" fill="#5e5e5e"/><circle cx="313.15" cy="32" r="1.25" fill="#7c7c7c" stroke="#484848" stroke-width="0.55"/><circle cx="313.15" cy="34.6" r="1.25" fill="#7c7c7c" stroke="#484848" stroke-width="0.55"/><circle cx="313.15" cy="50.7" r="1.25" fill="#7c7c7c" stroke="#484848" stroke-width="0.55"/><circle cx="313.15" cy="52.7" r="1.25" fill="#7c7c7c" stroke="#484848" stroke-width="0.55"/><rect x="316.9" y="48" width="2.0" height="5" rx="0.8" fill="#5e5e5e"/><circle cx="317.9" cy="44.2" r="1.25" fill="#7c7c7c" stroke="#484848" stroke-width="0.55"/><circle cx="213.31" cy="48.0" r="1.15" fill="#fff" stroke="#9a9a9a" stroke-width="0.4"/><circle cx="218.07" cy="48.6" r="1.15" fill="#fff" stroke="#9a9a9a" stroke-width="0.4"/><circle cx="222.82" cy="55.3" r="1.15" fill="#fff" stroke="#9a9a9a" stroke-width="0.4"/><circle cx="227.58" cy="46.9" r="1.15" fill="#fff" stroke="#9a9a9a" stroke-width="0.4"/><polyline points="213.31,48.0 218.07,48.6 222.82,55.3 227.58,46.9" fill="none" stroke="#f0561e" stroke-width="1.25" stroke-linejoin="round"/><circle cx="237.08" cy="46.9" r="1.15" fill="#fff" stroke="#9a9a9a" stroke-width="0.4"/><circle cx="241.84" cy="48.0" r="1.15" fill="#fff" stroke="#9a9a9a" stroke-width="0.4"/><polyline points="237.08,46.9 241.84,48.0" fill="none" stroke="#f0561e" stroke-width="1.25" stroke-linejoin="round"/><circle cx="251.35" cy="46.4" r="1.15" fill="#fff" stroke="#9a9a9a" stroke-width="0.4"/><circle cx="256.1" cy="45.8" r="1.15" fill="#fff" stroke="#9a9a9a" stroke-width="0.4"/><circle cx="260.85" cy="46.7" r="1.15" fill="#fff" stroke="#9a9a9a" stroke-width="0.4"/><circle cx="265.61" cy="51.8" r="1.15" fill="#fff" stroke="#9a9a9a" stroke-width="0.4"/><circle cx="270.36" cy="47.6" r="1.15" fill="#fff" stroke="#9a9a9a" stroke-width="0.4"/><circle cx="275.12" cy="50.4" r="1.15" fill="#fff" stroke="#9a9a9a" stroke-width="0.4"/><circle cx="279.87" cy="44" r="1.15" fill="#fff" stroke="#9a9a9a" stroke-width="0.4"/><polyline points="251.35,46.4 256.1,45.8 260.85,46.7 265.61,51.8 270.36,47.6 275.12,50.4 279.87,44" fill="none" stroke="#f0561e" stroke-width="1.25" stroke-linejoin="round"/><circle cx="289.38" cy="45.8" r="1.15" fill="#fff" stroke="#9a9a9a" stroke-width="0.4"/><circle cx="294.13" cy="42.7" r="1.15" fill="#fff" stroke="#9a9a9a" stroke-width="0.4"/><circle cx="298.89" cy="50.7" r="1.15" fill="#fff" stroke="#9a9a9a" stroke-width="0.4"/><circle cx="303.64" cy="49.1" r="1.15" fill="#fff" stroke="#9a9a9a" stroke-width="0.4"/><circle cx="308.39" cy="46.4" r="1.15" fill="#fff" stroke="#9a9a9a" stroke-width="0.4"/><circle cx="313.15" cy="43.1" r="1.15" fill="#fff" stroke="#9a9a9a" stroke-width="0.4"/><circle cx="317.9" cy="50.7" r="1.15" fill="#fff" stroke="#9a9a9a" stroke-width="0.4"/><polyline points="289.38,45.8 294.13,42.7 298.89,50.7 303.64,49.1 308.39,46.4 313.15,43.1 317.9,50.7" fill="none" stroke="#f0561e" stroke-width="1.25" stroke-linejoin="round"/></g><rect x="209.7" y="15.2" width="120.8" height="57.2" fill="none" stroke="#a6a6a6" stroke-width="1.25"/><path d="M213.31 72.4v-1.2M213.31 15.2v1.2M218.07 72.4v-1.2M218.07 15.2v1.2M222.82 72.4v-1.2M222.82 15.2v1.2M227.58 72.4v-1.2M227.58 15.2v1.2M232.33 72.4v-1.2M232.33 15.2v1.2M237.08 72.4v-1.2M237.08 15.2v1.2M241.84 72.4v-1.2M241.84 15.2v1.2M246.59 72.4v-1.2M246.59 15.2v1.2M251.35 72.4v-1.2M251.35 15.2v1.2M256.1 72.4v-1.2M256.1 15.2v1.2M260.85 72.4v-1.2M260.85 15.2v1.2M265.61 72.4v-1.2M265.61 15.2v1.2M270.36 72.4v-1.2M270.36 15.2v1.2M275.12 72.4v-1.2M275.12 15.2v1.2M279.87 72.4v-1.2M279.87 15.2v1.2M284.62 72.4v-1.2M284.62 15.2v1.2M289.38 72.4v-1.2M289.38 15.2v1.2M294.13 72.4v-1.2M294.13 15.2v1.2M298.89 72.4v-1.2M298.89 15.2v1.2M303.64 72.4v-1.2M303.64 15.2v1.2M308.39 72.4v-1.2M308.39 15.2v1.2M313.15 72.4v-1.2M313.15 15.2v1.2M317.9 72.4v-1.2M317.9 15.2v1.2M322.66 72.4v-1.2M322.66 15.2v1.2M327.41 72.4v-1.2M327.41 15.2v1.2M209.7 15.2h1.2M330.5 15.2h-1.2M209.7 32.8h1.2M330.5 32.8h-1.2M209.7 50.4h1.2M330.5 50.4h-1.2M209.7 68h1.2M330.5 68h-1.2" stroke="#a6a6a6" stroke-width="0.6" fill="none"/><text transform="translate(207.3,17.65) scale(1.05,1)" text-anchor="end" font-size="7.0" stroke="#1a1a1a" stroke-width="0.16">0.2</text><text transform="translate(207.3,35.25) scale(1.05,1)" text-anchor="end" font-size="7.0" stroke="#1a1a1a" stroke-width="0.16">0.1</text><text transform="translate(207.3,52.85) scale(1.05,1)" text-anchor="end" font-size="7.0" stroke="#1a1a1a" stroke-width="0.16">0</text><text transform="translate(207.3,70.45) scale(1.05,1)" text-anchor="end" font-size="7.0" stroke="#1a1a1a" stroke-width="0.16">-0.1</text><text transform="translate(270.1,10.35) scale(0.955,1)" text-anchor="middle" font-size="14.0">SWA2</text><rect x="211.34" y="88.8" width="3.95" height="18.9" fill="#5143f7"/><rect x="211.34" y="107.7" width="3.95" height="13.1" fill="#a7a6f4"/><rect x="211.34" y="120.8" width="3.95" height="12.4" fill="#fc7c9e"/><rect x="211.34" y="133.2" width="3.95" height="6.5" fill="#f5433f"/><rect x="211.34" y="88.8" width="3.95" height="50.9" fill="none" stroke="#8c8c8c" stroke-width="0.45"/><rect x="216.09" y="88.8" width="3.95" height="26.1" fill="#5143f7"/><rect x="216.09" y="114.9" width="3.95" height="5.4" fill="#a7a6f4"/><rect x="216.09" y="120.3" width="3.95" height="14.1" fill="#fc7c9e"/><rect x="216.09" y="134.4" width="3.95" height="5.3" fill="#f5433f"/><rect x="216.09" y="88.8" width="3.95" height="50.9" fill="none" stroke="#8c8c8c" stroke-width="0.45"/><rect x="220.85" y="88.8" width="3.95" height="14.5" fill="#5143f7"/><rect x="220.85" y="103.3" width="3.95" height="9" fill="#fc7c9e"/><rect x="220.85" y="112.3" width="3.95" height="27.4" fill="#f5433f"/><rect x="220.85" y="88.8" width="3.95" height="50.9" fill="none" stroke="#8c8c8c" stroke-width="0.45"/><rect x="225.6" y="88.8" width="3.95" height="37.1" fill="#5143f7"/><rect x="225.6" y="125.9" width="3.95" height="7.6" fill="#a7a6f4"/><rect x="225.6" y="133.5" width="3.95" height="6.2" fill="#fc7c9e"/><rect x="225.6" y="88.8" width="3.95" height="50.9" fill="none" stroke="#8c8c8c" stroke-width="0.45"/><rect x="235.11" y="88.8" width="3.95" height="35.9" fill="#5143f7"/><rect x="235.11" y="124.7" width="3.95" height="2.9" fill="#a7a6f4"/><rect x="235.11" y="127.6" width="3.95" height="11" fill="#fc7c9e"/><rect x="235.11" y="138.6" width="3.95" height="1.1" fill="#f5433f"/><rect x="235.11" y="88.8" width="3.95" height="50.9" fill="none" stroke="#8c8c8c" stroke-width="0.45"/><rect x="239.86" y="88.8" width="3.95" height="28.3" fill="#5143f7"/><rect x="239.86" y="117.1" width="3.95" height="9.6" fill="#a7a6f4"/><rect x="239.86" y="126.7" width="3.95" height="11.9" fill="#fc7c9e"/><rect x="239.86" y="138.6" width="3.95" height="1.1" fill="#f5433f"/><rect x="239.86" y="88.8" width="3.95" height="50.9" fill="none" stroke="#8c8c8c" stroke-width="0.45"/><rect x="249.37" y="88.8" width="3.95" height="36.6" fill="#5143f7"/><rect x="249.37" y="125.4" width="3.95" height="2.2" fill="#a7a6f4"/><rect x="249.37" y="127.6" width="3.95" height="12.1" fill="#fc7c9e"/><rect x="249.37" y="88.8" width="3.95" height="50.9" fill="none" stroke="#8c8c8c" stroke-width="0.45"/><rect x="254.13" y="88.8" width="3.95" height="23.5" fill="#5143f7"/><rect x="254.13" y="112.3" width="3.95" height="15.3" fill="#a7a6f4"/><rect x="254.13" y="127.6" width="3.95" height="12.1" fill="#fc7c9e"/><rect x="254.13" y="88.8" width="3.95" height="50.9" fill="none" stroke="#8c8c8c" stroke-width="0.45"/><rect x="258.88" y="88.8" width="3.95" height="28.6" fill="#5143f7"/><rect x="258.88" y="117.4" width="3.95" height="5.1" fill="#a7a6f4"/><rect x="258.88" y="122.5" width="3.95" height="17.2" fill="#fc7c9e"/><rect x="258.88" y="88.8" width="3.95" height="50.9" fill="none" stroke="#8c8c8c" stroke-width="0.45"/><rect x="263.63" y="88.8" width="3.95" height="12.8" fill="#5143f7"/><rect x="263.63" y="101.6" width="3.95" height="34.5" fill="#fc7c9e"/><rect x="263.63" y="136.1" width="3.95" height="3.6" fill="#f5433f"/><rect x="263.63" y="88.8" width="3.95" height="50.9" fill="none" stroke="#8c8c8c" stroke-width="0.45"/><rect x="268.39" y="88.8" width="3.95" height="37.1" fill="#5143f7"/><rect x="268.39" y="125.9" width="3.95" height="1.4" fill="#a7a6f4"/><rect x="268.39" y="127.3" width="3.95" height="12.4" fill="#fc7c9e"/><rect x="268.39" y="88.8" width="3.95" height="50.9" fill="none" stroke="#8c8c8c" stroke-width="0.45"/><rect x="273.14" y="88.8" width="3.95" height="25.2" fill="#5143f7"/><rect x="273.14" y="114" width="3.95" height="2.9" fill="#a7a6f4"/><rect x="273.14" y="116.9" width="3.95" height="20.9" fill="#fc7c9e"/><rect x="273.14" y="137.8" width="3.95" height="1.9" fill="#f5433f"/><rect x="273.14" y="88.8" width="3.95" height="50.9" fill="none" stroke="#8c8c8c" stroke-width="0.45"/><rect x="277.9" y="88.8" width="3.95" height="22.3" fill="#5143f7"/><rect x="277.9" y="111.1" width="3.95" height="28.6" fill="#a7a6f4"/><rect x="277.9" y="88.8" width="3.95" height="50.9" fill="none" stroke="#8c8c8c" stroke-width="0.45"/><rect x="287.4" y="88.8" width="3.95" height="29.8" fill="#5143f7"/><rect x="287.4" y="118.6" width="3.95" height="14.6" fill="#a7a6f4"/><rect x="287.4" y="133.2" width="3.95" height="6.5" fill="#fc7c9e"/><rect x="287.4" y="88.8" width="3.95" height="50.9" fill="none" stroke="#8c8c8c" stroke-width="0.45"/><rect x="292.16" y="88.8" width="3.95" height="17.2" fill="#5143f7"/><rect x="292.16" y="106" width="3.95" height="33.7" fill="#a7a6f4"/><rect x="292.16" y="88.8" width="3.95" height="50.9" fill="none" stroke="#8c8c8c" stroke-width="0.45"/><rect x="296.91" y="88.8" width="3.95" height="18.4" fill="#5143f7"/><rect x="296.91" y="107.2" width="3.95" height="1.2" fill="#a7a6f4"/><rect x="296.91" y="108.4" width="3.95" height="29.4" fill="#fc7c9e"/><rect x="296.91" y="137.8" width="3.95" height="1.9" fill="#f5433f"/><rect x="296.91" y="88.8" width="3.95" height="50.9" fill="none" stroke="#8c8c8c" stroke-width="0.45"/><rect x="301.67" y="88.8" width="3.95" height="28.1" fill="#5143f7"/><rect x="301.67" y="116.9" width="3.95" height="5.1" fill="#a7a6f4"/><rect x="301.67" y="122" width="3.95" height="17.7" fill="#fc7c9e"/><rect x="301.67" y="88.8" width="3.95" height="50.9" fill="none" stroke="#8c8c8c" stroke-width="0.45"/><rect x="306.42" y="88.8" width="3.95" height="32" fill="#5143f7"/><rect x="306.42" y="120.8" width="3.95" height="12.7" fill="#a7a6f4"/><rect x="306.42" y="133.5" width="3.95" height="6.2" fill="#fc7c9e"/><rect x="306.42" y="88.8" width="3.95" height="50.9" fill="none" stroke="#8c8c8c" stroke-width="0.45"/><rect x="311.17" y="88.8" width="3.95" height="21.8" fill="#5143f7"/><rect x="311.17" y="110.6" width="3.95" height="29.1" fill="#a7a6f4"/><rect x="311.17" y="88.8" width="3.95" height="50.9" fill="none" stroke="#8c8c8c" stroke-width="0.45"/><rect x="315.93" y="88.8" width="3.95" height="17.6" fill="#5143f7"/><rect x="315.93" y="106.4" width="3.95" height="33.3" fill="#fc7c9e"/><rect x="315.93" y="88.8" width="3.95" height="50.9" fill="none" stroke="#8c8c8c" stroke-width="0.45"/><polyline points="213.31,117.4 218.07,129.6 222.82,129.6 227.58,129.6" fill="none" stroke="#111" stroke-width="1"/><circle cx="213.31" cy="117.4" r="1.25" fill="#111"/><circle cx="218.07" cy="129.6" r="1.25" fill="#111"/><circle cx="222.82" cy="129.6" r="1.25" fill="#111"/><circle cx="227.58" cy="129.6" r="1.25" fill="#111"/><polyline points="237.08,129.6 241.84,128.8" fill="none" stroke="#111" stroke-width="1"/><circle cx="237.08" cy="129.6" r="1.25" fill="#111"/><circle cx="241.84" cy="128.8" r="1.25" fill="#111"/><polyline points="251.35,129.5 256.1,129.5 260.85,129.5 265.61,129.5 270.36,129.5 275.12,129.5 279.87,129.5" fill="none" stroke="#111" stroke-width="1"/><circle cx="251.35" cy="129.5" r="1.25" fill="#111"/><circle cx="256.1" cy="129.5" r="1.25" fill="#111"/><circle cx="260.85" cy="129.5" r="1.25" fill="#111"/><circle cx="265.61" cy="129.5" r="1.25" fill="#111"/><circle cx="270.36" cy="129.5" r="1.25" fill="#111"/><circle cx="275.12" cy="129.5" r="1.25" fill="#111"/><circle cx="279.87" cy="129.5" r="1.25" fill="#111"/><polyline points="289.38,129.3 294.13,126.7 298.89,129.5 303.64,129.5 308.39,129.5 313.15,128.1 317.9,129.5" fill="none" stroke="#111" stroke-width="1"/><circle cx="289.38" cy="129.3" r="1.25" fill="#111"/><circle cx="294.13" cy="126.7" r="1.25" fill="#111"/><circle cx="298.89" cy="129.5" r="1.25" fill="#111"/><circle cx="303.64" cy="129.5" r="1.25" fill="#111"/><circle cx="308.39" cy="129.5" r="1.25" fill="#111"/><circle cx="313.15" cy="128.1" r="1.25" fill="#111"/><circle cx="317.9" cy="129.5" r="1.25" fill="#111"/><rect x="209.7" y="88.8" width="120.8" height="50.9" fill="none" stroke="#a6a6a6" stroke-width="1.25"/><path d="M213.31 139.7v-1.2M213.31 88.8v1.2M218.07 139.7v-1.2M218.07 88.8v1.2M222.82 139.7v-1.2M222.82 88.8v1.2M227.58 139.7v-1.2M227.58 88.8v1.2M232.33 139.7v-1.2M232.33 88.8v1.2M237.08 139.7v-1.2M237.08 88.8v1.2M241.84 139.7v-1.2M241.84 88.8v1.2M246.59 139.7v-1.2M246.59 88.8v1.2M251.35 139.7v-1.2M251.35 88.8v1.2M256.1 139.7v-1.2M256.1 88.8v1.2M260.85 139.7v-1.2M260.85 88.8v1.2M265.61 139.7v-1.2M265.61 88.8v1.2M270.36 139.7v-1.2M270.36 88.8v1.2M275.12 139.7v-1.2M275.12 88.8v1.2M279.87 139.7v-1.2M279.87 88.8v1.2M284.62 139.7v-1.2M284.62 88.8v1.2M289.38 139.7v-1.2M289.38 88.8v1.2M294.13 139.7v-1.2M294.13 88.8v1.2M298.89 139.7v-1.2M298.89 88.8v1.2M303.64 139.7v-1.2M303.64 88.8v1.2M308.39 139.7v-1.2M308.39 88.8v1.2M313.15 139.7v-1.2M313.15 88.8v1.2M317.9 139.7v-1.2M317.9 88.8v1.2M322.66 139.7v-1.2M322.66 88.8v1.2M327.41 139.7v-1.2M327.41 88.8v1.2M209.7 88.8h1.2M209.7 109.16h1.2M209.7 129.52h1.2M330.5 139.7h-1.2M330.5 114.25h-1.2M330.5 88.8h-1.2" stroke="#a6a6a6" stroke-width="0.6" fill="none"/><text transform="translate(207.3,91.25) scale(1.05,1)" text-anchor="end" font-size="7.0" stroke="#1a1a1a" stroke-width="0.16">0.4</text><text transform="translate(207.3,111.61) scale(1.05,1)" text-anchor="end" font-size="7.0" stroke="#1a1a1a" stroke-width="0.16">0.2</text><text transform="translate(207.3,131.97) scale(1.05,1)" text-anchor="end" font-size="7.0" stroke="#1a1a1a" stroke-width="0.16">0</text><text transform="translate(333.3,91.25) scale(1.05,1)" font-size="7.0" stroke="#1a1a1a" stroke-width="0.16">100</text><text transform="translate(333.3,116.7) scale(1.05,1)" font-size="7.0" stroke="#1a1a1a" stroke-width="0.16">50</text><text transform="translate(333.3,142.15) scale(1.05,1)" font-size="7.0" stroke="#1a1a1a" stroke-width="0.16">0</text><rect x="211.39" y="186.77" width="3.96" height="22.56" fill="#7ef29c" stroke="#555" stroke-width="0.5"/><rect x="216.17" y="201.5" width="3.96" height="7.83" fill="#a4f4b8" stroke="#555" stroke-width="0.5"/><rect x="220.94" y="204.45" width="3.96" height="4.89" fill="#3cb371" stroke="#555" stroke-width="0.5"/><rect x="225.71" y="208.08" width="3.96" height="1.25" fill="#16a83c" stroke="#555" stroke-width="0.5"/><rect x="235.26" y="206.2" width="3.96" height="3.13" fill="#f2f2f2" stroke="#555" stroke-width="0.5"/><rect x="240.03" y="207.14" width="3.96" height="2.19" fill="#d2d2d2" stroke="#555" stroke-width="0.5"/><rect x="249.58" y="208.08" width="3.96" height="1.25" fill="#474747" stroke="#555" stroke-width="0.5"/><rect x="254.35" y="207.14" width="3.96" height="2.19" fill="#ffffff" stroke="#555" stroke-width="0.5"/><rect x="259.12" y="208.08" width="3.96" height="1.25" fill="#f5e2b0" stroke="#555" stroke-width="0.5"/><rect x="263.89" y="209.33" width="3.96" height="0.75" fill="#c8b496" stroke="#555" stroke-width="0.5"/><rect x="268.67" y="203.44" width="3.96" height="5.89" fill="#deb887" stroke="#555" stroke-width="0.5"/><rect x="273.44" y="209.33" width="3.96" height="2.38" fill="#d2541e" stroke="#555" stroke-width="0.5"/><rect x="278.21" y="209.33" width="3.96" height="3.26" fill="#b4461a" stroke="#555" stroke-width="0.5"/><rect x="287.76" y="208.08" width="3.96" height="1.25" fill="#f08c78" stroke="#555" stroke-width="0.5"/><rect x="292.53" y="202.56" width="3.96" height="6.77" fill="#f01e3c" stroke="#555" stroke-width="0.5"/><rect x="297.3" y="203.38" width="3.96" height="5.95" fill="#d42424" stroke="#555" stroke-width="0.5"/><rect x="302.08" y="205.01" width="3.96" height="4.32" fill="#a01010" stroke="#555" stroke-width="0.5"/><rect x="306.85" y="205.01" width="3.96" height="4.32" fill="#a8e2f8" stroke="#555" stroke-width="0.5"/><rect x="311.62" y="205.01" width="3.96" height="4.32" fill="#80dcec" stroke="#555" stroke-width="0.5"/><rect x="316.39" y="203.57" width="3.96" height="5.77" fill="#2890f0" stroke="#555" stroke-width="0.5"/><line x1="209.7" x2="331.5" y1="209.33" y2="209.33" stroke="#8a8a8a" stroke-width="0.7"/><rect x="209.7" y="164.4" width="121.8" height="51.2" fill="none" stroke="#a6a6a6" stroke-width="1.25"/><path d="M213.38 215.6v-1.2M213.38 164.4v1.2M218.15 215.6v-1.2M218.15 164.4v1.2M222.92 215.6v-1.2M222.92 164.4v1.2M227.69 215.6v-1.2M227.69 164.4v1.2M232.47 215.6v-1.2M232.47 164.4v1.2M237.24 215.6v-1.2M237.24 164.4v1.2M242.01 215.6v-1.2M242.01 164.4v1.2M246.78 215.6v-1.2M246.78 164.4v1.2M251.56 215.6v-1.2M251.56 164.4v1.2M256.33 215.6v-1.2M256.33 164.4v1.2M261.1 215.6v-1.2M261.1 164.4v1.2M265.88 215.6v-1.2M265.88 164.4v1.2M270.65 215.6v-1.2M270.65 164.4v1.2M275.42 215.6v-1.2M275.42 164.4v1.2M280.19 215.6v-1.2M280.19 164.4v1.2M284.97 215.6v-1.2M284.97 164.4v1.2M289.74 215.6v-1.2M289.74 164.4v1.2M294.51 215.6v-1.2M294.51 164.4v1.2M299.28 215.6v-1.2M299.28 164.4v1.2M304.06 215.6v-1.2M304.06 164.4v1.2M308.83 215.6v-1.2M308.83 164.4v1.2M313.6 215.6v-1.2M313.6 164.4v1.2M318.38 215.6v-1.2M318.38 164.4v1.2M323.15 215.6v-1.2M323.15 164.4v1.2M327.92 215.6v-1.2M327.92 164.4v1.2M209.7 171.73h1.2M331.5 171.73h-1.2M209.7 184.27h1.2M331.5 184.27h-1.2M209.7 196.8h1.2M331.5 196.8h-1.2M209.7 209.33h1.2M331.5 209.33h-1.2" stroke="#a6a6a6" stroke-width="0.6" fill="none"/><text transform="translate(207.3,174.18) scale(1.05,1)" text-anchor="end" font-size="7.0" stroke="#1a1a1a" stroke-width="0.16">0.6</text><text transform="translate(207.3,186.72) scale(1.05,1)" text-anchor="end" font-size="7.0" stroke="#1a1a1a" stroke-width="0.16">0.4</text><text transform="translate(207.3,199.25) scale(1.05,1)" text-anchor="end" font-size="7.0" stroke="#1a1a1a" stroke-width="0.16">0.2</text><text transform="translate(207.3,211.78) scale(1.05,1)" text-anchor="end" font-size="7.0" stroke="#1a1a1a" stroke-width="0.16">0</text><rect x="211.95" y="257.47" width="3.97" height="10.86" fill="#7ef29c" stroke="#555" stroke-width="0.5"/><rect x="216.74" y="257.47" width="3.97" height="11.88" fill="#a4f4b8" stroke="#555" stroke-width="0.5"/><rect x="221.52" y="257.47" width="3.97" height="25.45" fill="#3cb371" stroke="#555" stroke-width="0.5"/><rect x="226.31" y="257.47" width="3.97" height="2.04" fill="#ffffff" stroke="#555" stroke-width="0.5"/><rect x="235.88" y="257.47" width="3.97" height="0.34" fill="#f2f2f2" stroke="#555" stroke-width="0.5"/><rect x="240.66" y="257.47" width="3.97" height="0.34" fill="#d2d2d2" stroke="#555" stroke-width="0.5"/><rect x="250.24" y="251.36" width="3.97" height="6.11" fill="#474747" stroke="#555" stroke-width="0.5"/><rect x="255.02" y="257.47" width="3.97" height="2.38" fill="#222222" stroke="#555" stroke-width="0.5"/><rect x="259.81" y="257.13" width="3.97" height="0.34" fill="#f5e2b0" stroke="#555" stroke-width="0.5"/><rect x="264.59" y="256.79" width="3.97" height="0.68" fill="#f0c080" stroke="#555" stroke-width="0.5"/><rect x="269.38" y="257.3" width="3.97" height="0.3" fill="#ffffff" stroke="#555" stroke-width="0.5"/><rect x="274.16" y="257.47" width="3.97" height="1.36" fill="#d2541e" stroke="#555" stroke-width="0.5"/><rect x="278.95" y="257.47" width="3.97" height="9.16" fill="#b4461a" stroke="#555" stroke-width="0.5"/><rect x="288.52" y="257.47" width="3.97" height="15.27" fill="#f08c78" stroke="#555" stroke-width="0.5"/><rect x="293.3" y="250.34" width="3.97" height="7.13" fill="#f01e3c" stroke="#555" stroke-width="0.5"/><rect x="298.09" y="247.29" width="3.97" height="10.18" fill="#d42424" stroke="#555" stroke-width="0.5"/><rect x="302.88" y="245.93" width="3.97" height="11.54" fill="#a01010" stroke="#555" stroke-width="0.5"/><rect x="307.66" y="246.61" width="3.97" height="10.86" fill="#a8e2f8" stroke="#555" stroke-width="0.5"/><rect x="312.45" y="249.66" width="3.97" height="7.8" fill="#80dcec" stroke="#555" stroke-width="0.5"/><rect x="317.23" y="257.47" width="3.97" height="3.05" fill="#ffffff" stroke="#555" stroke-width="0.5"/><line x1="210.3" x2="331.9" y1="257.47" y2="257.47" stroke="#8a8a8a" stroke-width="0.7"/><rect x="210.3" y="240.5" width="121.6" height="50.9" fill="none" stroke="#a6a6a6" stroke-width="1.25"/><path d="M213.94 291.4v-1.2M213.94 240.5v1.2M218.72 291.4v-1.2M218.72 240.5v1.2M223.51 291.4v-1.2M223.51 240.5v1.2M228.29 291.4v-1.2M228.29 240.5v1.2M233.08 291.4v-1.2M233.08 240.5v1.2M237.86 291.4v-1.2M237.86 240.5v1.2M242.65 291.4v-1.2M242.65 240.5v1.2M247.44 291.4v-1.2M247.44 240.5v1.2M252.22 291.4v-1.2M252.22 240.5v1.2M257.01 291.4v-1.2M257.01 240.5v1.2M261.79 291.4v-1.2M261.79 240.5v1.2M266.58 291.4v-1.2M266.58 240.5v1.2M271.36 291.4v-1.2M271.36 240.5v1.2M276.15 291.4v-1.2M276.15 240.5v1.2M280.93 291.4v-1.2M280.93 240.5v1.2M285.72 291.4v-1.2M285.72 240.5v1.2M290.51 291.4v-1.2M290.51 240.5v1.2M295.29 291.4v-1.2M295.29 240.5v1.2M300.08 291.4v-1.2M300.08 240.5v1.2M304.86 291.4v-1.2M304.86 240.5v1.2M309.65 291.4v-1.2M309.65 240.5v1.2M314.43 291.4v-1.2M314.43 240.5v1.2M319.22 291.4v-1.2M319.22 240.5v1.2M324 291.4v-1.2M324 240.5v1.2M328.79 291.4v-1.2M328.79 240.5v1.2M210.3 240.5h1.2M331.9 240.5h-1.2M210.3 257.47h1.2M331.9 257.47h-1.2M210.3 274.43h1.2M331.9 274.43h-1.2M210.3 291.4h1.2M331.9 291.4h-1.2" stroke="#a6a6a6" stroke-width="0.6" fill="none"/><text transform="translate(207.9,242.95) scale(1.05,1)" text-anchor="end" font-size="7.0" stroke="#1a1a1a" stroke-width="0.16">5</text><text transform="translate(207.9,259.92) scale(1.05,1)" text-anchor="end" font-size="7.0" stroke="#1a1a1a" stroke-width="0.16">0</text><text transform="translate(207.9,276.88) scale(1.05,1)" text-anchor="end" font-size="7.0" stroke="#1a1a1a" stroke-width="0.16">-5</text><text transform="translate(207.9,293.85) scale(1.05,1)" text-anchor="end" font-size="7.0" stroke="#1a1a1a" stroke-width="0.16">-10</text><text x="210" y="238.5" font-size="7.6">×10<tspan dy="-2.8" font-size="5">-5</tspan></text><text transform="translate(216.14,293.8) rotate(-90)" text-anchor="end" font-size="6.4" stroke="#1a1a1a" stroke-width="0.1">1</text><text transform="translate(220.92,293.8) rotate(-90)" text-anchor="end" font-size="6.4" stroke="#1a1a1a" stroke-width="0.1">2</text><text transform="translate(225.71,293.8) rotate(-90)" text-anchor="end" font-size="6.4" stroke="#1a1a1a" stroke-width="0.1">3</text><text transform="translate(230.49,293.8) rotate(-90)" text-anchor="end" font-size="6.4" stroke="#1a1a1a" stroke-width="0.1">4</text><text transform="translate(235.28,293.8) rotate(-90)" text-anchor="end" font-size="6.4" stroke="#1a1a1a" stroke-width="0.1">5</text><text transform="translate(240.06,293.8) rotate(-90)" text-anchor="end" font-size="6.4" stroke="#1a1a1a" stroke-width="0.1">6</text><text transform="translate(244.85,293.8) rotate(-90)" text-anchor="end" font-size="6.4" stroke="#1a1a1a" stroke-width="0.1">7</text><text transform="translate(249.64,293.8) rotate(-90)" text-anchor="end" font-size="6.4" stroke="#1a1a1a" stroke-width="0.1">8</text><text transform="translate(254.42,293.8) rotate(-90)" text-anchor="end" font-size="6.4" stroke="#1a1a1a" stroke-width="0.1">9</text><text transform="translate(259.21,293.8) rotate(-90)" text-anchor="end" font-size="6.4" stroke="#1a1a1a" stroke-width="0.1">10</text><text transform="translate(263.99,293.8) rotate(-90)" text-anchor="end" font-size="6.4" stroke="#1a1a1a" stroke-width="0.1">11</text><text transform="translate(268.78,293.8) rotate(-90)" text-anchor="end" font-size="6.4" stroke="#1a1a1a" stroke-width="0.1">12</text><text transform="translate(273.56,293.8) rotate(-90)" text-anchor="end" font-size="6.4" stroke="#1a1a1a" stroke-width="0.1">13</text><text transform="translate(278.35,293.8) rotate(-90)" text-anchor="end" font-size="6.4" stroke="#1a1a1a" stroke-width="0.1">14</text><text transform="translate(283.13,293.8) rotate(-90)" text-anchor="end" font-size="6.4" stroke="#1a1a1a" stroke-width="0.1">15</text><text transform="translate(287.92,293.8) rotate(-90)" text-anchor="end" font-size="6.4" stroke="#1a1a1a" stroke-width="0.1">16</text><text transform="translate(292.71,293.8) rotate(-90)" text-anchor="end" font-size="6.4" stroke="#1a1a1a" stroke-width="0.1">17</text><text transform="translate(297.49,293.8) rotate(-90)" text-anchor="end" font-size="6.4" stroke="#1a1a1a" stroke-width="0.1">18</text><text transform="translate(302.28,293.8) rotate(-90)" text-anchor="end" font-size="6.4" stroke="#1a1a1a" stroke-width="0.1">19</text><text transform="translate(307.06,293.8) rotate(-90)" text-anchor="end" font-size="6.4" stroke="#1a1a1a" stroke-width="0.1">20</text><text transform="translate(311.85,293.8) rotate(-90)" text-anchor="end" font-size="6.4" stroke="#1a1a1a" stroke-width="0.1">21</text><text transform="translate(316.63,293.8) rotate(-90)" text-anchor="end" font-size="6.4" stroke="#1a1a1a" stroke-width="0.1">22</text><text transform="translate(321.42,293.8) rotate(-90)" text-anchor="end" font-size="6.4" stroke="#1a1a1a" stroke-width="0.1">23</text><text transform="translate(326.2,293.8) rotate(-90)" text-anchor="end" font-size="6.4" stroke="#1a1a1a" stroke-width="0.1">24</text><text transform="translate(330.99,293.8) rotate(-90)" text-anchor="end" font-size="6.4" stroke="#1a1a1a" stroke-width="0.1">25</text><g><path d="M362.94 27.6V67.6M367.99 34.9V62.2M373.04 43V64M378.09 33V58.5M383.14 26.7V62.2M388.19 38.5V59M393.25 35.8V61M398.3 17.6V57M403.35 35.5V55.8M408.4 36.7V56.7M413.45 35.8V57.6M418.5 44V59.5M423.55 43V54M428.6 41.3V61.3M433.66 38.5V52M438.71 24V53M443.76 39.5V54M448.81 37.6V49.5M453.86 36.7V60.6M458.91 41.3V57.6M463.96 41.3V56.7M469.01 38.5V52.2M474.06 44V54" stroke="#c4c4c4" stroke-width="0.9" fill="none"/><rect x="361.94" y="43.3" width="2.0" height="9.4" rx="0.8" fill="#5e5e5e"/><circle cx="362.94" cy="27.6" r="1.25" fill="#7c7c7c" stroke="#484848" stroke-width="0.55"/><circle cx="362.94" cy="29.2" r="1.25" fill="#7c7c7c" stroke="#484848" stroke-width="0.55"/><circle cx="362.94" cy="67.6" r="1.25" fill="#7c7c7c" stroke="#484848" stroke-width="0.55"/><rect x="366.99" y="44.7" width="2.0" height="9.1" rx="0.8" fill="#5e5e5e"/><rect x="372.04" y="50.9" width="2.0" height="4" rx="0.8" fill="#5e5e5e"/><circle cx="373.04" cy="59" r="1.25" fill="#7c7c7c" stroke="#484848" stroke-width="0.55"/><circle cx="373.04" cy="61.3" r="1.25" fill="#7c7c7c" stroke="#484848" stroke-width="0.55"/><rect x="377.09" y="44.7" width="2.0" height="5.8" rx="0.8" fill="#5e5e5e"/><circle cx="378.09" cy="33.8" r="1.25" fill="#7c7c7c" stroke="#484848" stroke-width="0.55"/><circle cx="378.09" cy="35.8" r="1.25" fill="#7c7c7c" stroke="#484848" stroke-width="0.55"/><rect x="382.14" y="44" width="2.0" height="5.8" rx="0.8" fill="#5e5e5e"/><circle cx="383.14" cy="26.8" r="1.25" fill="#7c7c7c" stroke="#484848" stroke-width="0.55"/><circle cx="383.14" cy="28.6" r="1.25" fill="#7c7c7c" stroke="#484848" stroke-width="0.55"/><circle cx="383.14" cy="31.4" r="1.25" fill="#7c7c7c" stroke="#484848" stroke-width="0.55"/><circle cx="383.14" cy="33.4" r="1.25" fill="#7c7c7c" stroke="#484848" stroke-width="0.55"/><circle cx="383.14" cy="35.6" r="1.25" fill="#7c7c7c" stroke="#484848" stroke-width="0.55"/><circle cx="383.14" cy="57.6" r="1.25" fill="#7c7c7c" stroke="#484848" stroke-width="0.55"/><circle cx="383.14" cy="59.6" r="1.25" fill="#7c7c7c" stroke="#484848" stroke-width="0.55"/><circle cx="383.14" cy="62" r="1.25" fill="#7c7c7c" stroke="#484848" stroke-width="0.55"/><rect x="387.19" y="44.7" width="2.0" height="5.1" rx="0.8" fill="#5e5e5e"/><circle cx="388.19" cy="57.8" r="1.25" fill="#7c7c7c" stroke="#484848" stroke-width="0.55"/><rect x="392.25" y="44" width="2.0" height="5.5" rx="0.8" fill="#5e5e5e"/><circle cx="393.25" cy="58.5" r="1.25" fill="#7c7c7c" stroke="#484848" stroke-width="0.55"/><circle cx="393.25" cy="61" r="1.25" fill="#7c7c7c" stroke="#484848" stroke-width="0.55"/><rect x="397.3" y="40" width="2.0" height="4" rx="0.8" fill="#5e5e5e"/><circle cx="398.3" cy="17.6" r="1.25" fill="#7c7c7c" stroke="#484848" stroke-width="0.55"/><circle cx="398.3" cy="19.2" r="1.25" fill="#7c7c7c" stroke="#484848" stroke-width="0.55"/><circle cx="398.3" cy="20.8" r="1.25" fill="#7c7c7c" stroke="#484848" stroke-width="0.55"/><circle cx="398.3" cy="22.4" r="1.25" fill="#7c7c7c" stroke="#484848" stroke-width="0.55"/><circle cx="398.3" cy="24" r="1.25" fill="#7c7c7c" stroke="#484848" stroke-width="0.55"/><circle cx="398.3" cy="25.6" r="1.25" fill="#7c7c7c" stroke="#484848" stroke-width="0.55"/><circle cx="398.3" cy="27.2" r="1.25" fill="#7c7c7c" stroke="#484848" stroke-width="0.55"/><circle cx="398.3" cy="28.8" r="1.25" fill="#7c7c7c" stroke="#484848" stroke-width="0.55"/><circle cx="398.3" cy="30.4" r="1.25" fill="#7c7c7c" stroke="#484848" stroke-width="0.55"/><circle cx="398.3" cy="32" r="1.25" fill="#7c7c7c" stroke="#484848" stroke-width="0.55"/><circle cx="398.3" cy="54" r="1.25" fill="#7c7c7c" stroke="#484848" stroke-width="0.55"/><circle cx="398.3" cy="56" r="1.25" fill="#7c7c7c" stroke="#484848" stroke-width="0.55"/><rect x="402.35" y="44" width="2.0" height="5" rx="0.8" fill="#5e5e5e"/><circle cx="403.35" cy="35.5" r="1.25" fill="#7c7c7c" stroke="#484848" stroke-width="0.55"/><rect x="407.4" y="43.5" width="2.0" height="6" rx="0.8" fill="#5e5e5e"/><rect x="412.45" y="43.5" width="2.0" height="6" rx="0.8" fill="#5e5e5e"/><rect x="417.5" y="49" width="2.0" height="5" rx="0.8" fill="#5e5e5e"/><rect x="422.55" y="46" width="2.0" height="4" rx="0.8" fill="#5e5e5e"/><rect x="427.6" y="46" width="2.0" height="5" rx="0.8" fill="#5e5e5e"/><circle cx="428.6" cy="60.4" r="1.25" fill="#7c7c7c" stroke="#484848" stroke-width="0.55"/><rect x="432.66" y="43" width="2.0" height="3" rx="0.8" fill="#5e5e5e"/><circle cx="433.66" cy="38.6" r="1.25" fill="#7c7c7c" stroke="#484848" stroke-width="0.55"/><circle cx="433.66" cy="40.2" r="1.25" fill="#7c7c7c" stroke="#484848" stroke-width="0.55"/><circle cx="433.66" cy="48" r="1.25" fill="#7c7c7c" stroke="#484848" stroke-width="0.55"/><circle cx="433.66" cy="50" r="1.25" fill="#7c7c7c" stroke="#484848" stroke-width="0.55"/><rect x="437.71" y="40" width="2.0" height="5" rx="0.8" fill="#5e5e5e"/><circle cx="438.71" cy="24.5" r="1.25" fill="#7c7c7c" stroke="#484848" stroke-width="0.55"/><circle cx="438.71" cy="26.8" r="1.25" fill="#7c7c7c" stroke="#484848" stroke-width="0.55"/><circle cx="438.71" cy="29.2" r="1.25" fill="#7c7c7c" stroke="#484848" stroke-width="0.55"/><circle cx="438.71" cy="31.6" r="1.25" fill="#7c7c7c" stroke="#484848" stroke-width="0.55"/><circle cx="438.71" cy="34" r="1.25" fill="#7c7c7c" stroke="#484848" stroke-width="0.55"/><circle cx="438.71" cy="36" r="1.25" fill="#7c7c7c" stroke="#484848" stroke-width="0.55"/><circle cx="438.71" cy="49.5" r="1.25" fill="#7c7c7c" stroke="#484848" stroke-width="0.55"/><circle cx="438.71" cy="51.8" r="1.25" fill="#7c7c7c" stroke="#484848" stroke-width="0.55"/><rect x="442.76" y="44" width="2.0" height="4" rx="0.8" fill="#5e5e5e"/><rect x="447.81" y="40" width="2.0" height="4.5" rx="0.8" fill="#5e5e5e"/><rect x="452.86" y="47" width="2.0" height="6" rx="0.8" fill="#5e5e5e"/><circle cx="453.86" cy="37.6" r="1.25" fill="#7c7c7c" stroke="#484848" stroke-width="0.55"/><circle cx="453.86" cy="39.6" r="1.25" fill="#7c7c7c" stroke="#484848" stroke-width="0.55"/><rect x="457.91" y="45" width="2.0" height="5" rx="0.8" fill="#5e5e5e"/><rect x="462.96" y="43" width="2.0" height="5" rx="0.8" fill="#5e5e5e"/><circle cx="463.96" cy="56.2" r="1.25" fill="#7c7c7c" stroke="#484848" stroke-width="0.55"/><rect x="468.01" y="41" width="2.0" height="5" rx="0.8" fill="#5e5e5e"/><circle cx="469.01" cy="51.3" r="1.25" fill="#7c7c7c" stroke="#484848" stroke-width="0.55"/><rect x="473.06" y="45" width="2.0" height="5" rx="0.8" fill="#5e5e5e"/><circle cx="362.94" cy="48.0" r="1.15" fill="#fff" stroke="#9a9a9a" stroke-width="0.4"/><circle cx="367.99" cy="48.4" r="1.15" fill="#fff" stroke="#9a9a9a" stroke-width="0.4"/><circle cx="373.04" cy="55.6" r="1.15" fill="#fff" stroke="#9a9a9a" stroke-width="0.4"/><circle cx="378.09" cy="47.6" r="1.15" fill="#fff" stroke="#9a9a9a" stroke-width="0.4"/><circle cx="383.14" cy="46.2" r="1.15" fill="#fff" stroke="#9a9a9a" stroke-width="0.4"/><circle cx="388.19" cy="47.3" r="1.15" fill="#fff" stroke="#9a9a9a" stroke-width="0.4"/><circle cx="393.25" cy="46.2" r="1.15" fill="#fff" stroke="#9a9a9a" stroke-width="0.4"/><circle cx="398.3" cy="41.8" r="1.15" fill="#fff" stroke="#9a9a9a" stroke-width="0.4"/><circle cx="403.35" cy="46.7" r="1.15" fill="#fff" stroke="#9a9a9a" stroke-width="0.4"/><circle cx="408.4" cy="46.4" r="1.15" fill="#fff" stroke="#9a9a9a" stroke-width="0.4"/><circle cx="413.45" cy="46.4" r="1.15" fill="#fff" stroke="#9a9a9a" stroke-width="0.4"/><circle cx="418.5" cy="51.3" r="1.15" fill="#fff" stroke="#9a9a9a" stroke-width="0.4"/><circle cx="423.55" cy="48.2" r="1.15" fill="#fff" stroke="#9a9a9a" stroke-width="0.4"/><circle cx="428.6" cy="48.9" r="1.15" fill="#fff" stroke="#9a9a9a" stroke-width="0.4"/><circle cx="433.66" cy="44" r="1.15" fill="#fff" stroke="#9a9a9a" stroke-width="0.4"/><circle cx="438.71" cy="42.2" r="1.15" fill="#fff" stroke="#9a9a9a" stroke-width="0.4"/><circle cx="443.76" cy="45.8" r="1.15" fill="#fff" stroke="#9a9a9a" stroke-width="0.4"/><circle cx="448.81" cy="42.2" r="1.15" fill="#fff" stroke="#9a9a9a" stroke-width="0.4"/><circle cx="453.86" cy="50.2" r="1.15" fill="#fff" stroke="#9a9a9a" stroke-width="0.4"/><circle cx="458.91" cy="47.3" r="1.15" fill="#fff" stroke="#9a9a9a" stroke-width="0.4"/><circle cx="463.96" cy="45.3" r="1.15" fill="#fff" stroke="#9a9a9a" stroke-width="0.4"/><circle cx="469.01" cy="43.1" r="1.15" fill="#fff" stroke="#9a9a9a" stroke-width="0.4"/><circle cx="474.06" cy="47.5" r="1.15" fill="#fff" stroke="#9a9a9a" stroke-width="0.4"/><polyline points="362.94,48.0 367.99,48.4 373.04,55.6 378.09,47.6 383.14,46.2 388.19,47.3 393.25,46.2 398.3,41.8 403.35,46.7 408.4,46.4 413.45,46.4 418.5,51.3 423.55,48.2 428.6,48.9 433.66,44 438.71,42.2 443.76,45.8 448.81,42.2 453.86,50.2 458.91,47.3 463.96,45.3 469.01,43.1 474.06,47.5" fill="none" stroke="#6cc02c" stroke-width="1.25" stroke-linejoin="round"/></g><rect x="359.1" y="15.2" width="128.35" height="57.2" fill="none" stroke="#a6a6a6" stroke-width="1.25"/><path d="M362.94 72.4v-1.2M362.94 15.2v1.2M367.99 72.4v-1.2M367.99 15.2v1.2M373.04 72.4v-1.2M373.04 15.2v1.2M378.09 72.4v-1.2M378.09 15.2v1.2M383.14 72.4v-1.2M383.14 15.2v1.2M388.19 72.4v-1.2M388.19 15.2v1.2M393.25 72.4v-1.2M393.25 15.2v1.2M398.3 72.4v-1.2M398.3 15.2v1.2M403.35 72.4v-1.2M403.35 15.2v1.2M408.4 72.4v-1.2M408.4 15.2v1.2M413.45 72.4v-1.2M413.45 15.2v1.2M418.5 72.4v-1.2M418.5 15.2v1.2M423.55 72.4v-1.2M423.55 15.2v1.2M428.6 72.4v-1.2M428.6 15.2v1.2M433.66 72.4v-1.2M433.66 15.2v1.2M438.71 72.4v-1.2M438.71 15.2v1.2M443.76 72.4v-1.2M443.76 15.2v1.2M448.81 72.4v-1.2M448.81 15.2v1.2M453.86 72.4v-1.2M453.86 15.2v1.2M458.91 72.4v-1.2M458.91 15.2v1.2M463.96 72.4v-1.2M463.96 15.2v1.2M469.01 72.4v-1.2M469.01 15.2v1.2M474.06 72.4v-1.2M474.06 15.2v1.2M479.12 72.4v-1.2M479.12 15.2v1.2M484.17 72.4v-1.2M484.17 15.2v1.2M359.1 15.2h1.2M487.45 15.2h-1.2M359.1 32.8h1.2M487.45 32.8h-1.2M359.1 50.4h1.2M487.45 50.4h-1.2M359.1 68h1.2M487.45 68h-1.2" stroke="#a6a6a6" stroke-width="0.6" fill="none"/><text transform="translate(356.7,17.65) scale(1.05,1)" text-anchor="end" font-size="7.0" stroke="#1a1a1a" stroke-width="0.16">0.2</text><text transform="translate(356.7,35.25) scale(1.05,1)" text-anchor="end" font-size="7.0" stroke="#1a1a1a" stroke-width="0.16">0.1</text><text transform="translate(356.7,52.85) scale(1.05,1)" text-anchor="end" font-size="7.0" stroke="#1a1a1a" stroke-width="0.16">0</text><text transform="translate(356.7,70.45) scale(1.05,1)" text-anchor="end" font-size="7.0" stroke="#1a1a1a" stroke-width="0.16">-0.1</text><text transform="translate(423.27,10.35) scale(0.955,1)" text-anchor="middle" font-size="14.0">SWA3</text><rect x="360.6" y="88.8" width="4.2" height="18.4" fill="#5143f7"/><rect x="360.6" y="107.2" width="4.2" height="11.9" fill="#a7a6f4"/><rect x="360.6" y="119.1" width="4.2" height="13.6" fill="#fc7c9e"/><rect x="360.6" y="132.7" width="4.2" height="7" fill="#f5433f"/><rect x="360.6" y="88.8" width="4.2" height="50.9" fill="none" stroke="#8c8c8c" stroke-width="0.45"/><rect x="365.66" y="88.8" width="4.2" height="26.1" fill="#5143f7"/><rect x="365.66" y="114.9" width="4.2" height="4.2" fill="#a7a6f4"/><rect x="365.66" y="119.1" width="4.2" height="15.3" fill="#fc7c9e"/><rect x="365.66" y="134.4" width="4.2" height="5.3" fill="#f5433f"/><rect x="365.66" y="88.8" width="4.2" height="50.9" fill="none" stroke="#8c8c8c" stroke-width="0.45"/><rect x="370.72" y="88.8" width="4.2" height="11.1" fill="#5143f7"/><rect x="370.72" y="99.9" width="4.2" height="16.3" fill="#fc7c9e"/><rect x="370.72" y="116.2" width="4.2" height="23.5" fill="#f5433f"/><rect x="370.72" y="88.8" width="4.2" height="50.9" fill="none" stroke="#8c8c8c" stroke-width="0.45"/><rect x="375.78" y="88.8" width="4.2" height="31.2" fill="#5143f7"/><rect x="375.78" y="120" width="4.2" height="4.2" fill="#a7a6f4"/><rect x="375.78" y="124.2" width="4.2" height="13.6" fill="#fc7c9e"/><rect x="375.78" y="137.8" width="4.2" height="1.9" fill="#f5433f"/><rect x="375.78" y="88.8" width="4.2" height="50.9" fill="none" stroke="#8c8c8c" stroke-width="0.45"/><rect x="380.84" y="88.8" width="4.2" height="24.4" fill="#5143f7"/><rect x="380.84" y="113.2" width="4.2" height="11.5" fill="#a7a6f4"/><rect x="380.84" y="124.7" width="4.2" height="13.9" fill="#fc7c9e"/><rect x="380.84" y="138.6" width="4.2" height="1.1" fill="#f5433f"/><rect x="380.84" y="88.8" width="4.2" height="50.9" fill="none" stroke="#8c8c8c" stroke-width="0.45"/><rect x="385.9" y="88.8" width="4.2" height="34.6" fill="#5143f7"/><rect x="385.9" y="123.4" width="4.2" height="4.2" fill="#a7a6f4"/><rect x="385.9" y="127.6" width="4.2" height="11" fill="#fc7c9e"/><rect x="385.9" y="138.6" width="4.2" height="1.1" fill="#f5433f"/><rect x="385.9" y="88.8" width="4.2" height="50.9" fill="none" stroke="#8c8c8c" stroke-width="0.45"/><rect x="390.96" y="88.8" width="4.2" height="23.5" fill="#5143f7"/><rect x="390.96" y="112.3" width="4.2" height="17.8" fill="#a7a6f4"/><rect x="390.96" y="130.1" width="4.2" height="8.5" fill="#fc7c9e"/><rect x="390.96" y="138.6" width="4.2" height="1.1" fill="#f5433f"/><rect x="390.96" y="88.8" width="4.2" height="50.9" fill="none" stroke="#8c8c8c" stroke-width="0.45"/><rect x="396.02" y="88.8" width="4.2" height="18.4" fill="#5143f7"/><rect x="396.02" y="107.2" width="4.2" height="32.5" fill="#a7a6f4"/><rect x="396.02" y="88.8" width="4.2" height="50.9" fill="none" stroke="#8c8c8c" stroke-width="0.45"/><rect x="401.08" y="88.8" width="4.2" height="40.5" fill="#5143f7"/><rect x="401.08" y="129.3" width="4.2" height="10.4" fill="#fc7c9e"/><rect x="401.08" y="88.8" width="4.2" height="50.9" fill="none" stroke="#8c8c8c" stroke-width="0.45"/><rect x="406.15" y="88.8" width="4.2" height="27.4" fill="#5143f7"/><rect x="406.15" y="116.2" width="4.2" height="10.5" fill="#a7a6f4"/><rect x="406.15" y="126.7" width="4.2" height="13" fill="#fc7c9e"/><rect x="406.15" y="88.8" width="4.2" height="50.9" fill="none" stroke="#8c8c8c" stroke-width="0.45"/><rect x="411.21" y="88.8" width="4.2" height="24.4" fill="#5143f7"/><rect x="411.21" y="113.2" width="4.2" height="12.2" fill="#a7a6f4"/><rect x="411.21" y="125.4" width="4.2" height="14.3" fill="#fc7c9e"/><rect x="411.21" y="88.8" width="4.2" height="50.9" fill="none" stroke="#8c8c8c" stroke-width="0.45"/><rect x="416.27" y="88.8" width="4.2" height="14.5" fill="#5143f7"/><rect x="416.27" y="103.3" width="4.2" height="34.5" fill="#fc7c9e"/><rect x="416.27" y="137.8" width="4.2" height="1.9" fill="#f5433f"/><rect x="416.27" y="88.8" width="4.2" height="50.9" fill="none" stroke="#8c8c8c" stroke-width="0.45"/><rect x="421.33" y="88.8" width="4.2" height="34.9" fill="#5143f7"/><rect x="421.33" y="123.7" width="4.2" height="1" fill="#a7a6f4"/><rect x="421.33" y="124.7" width="4.2" height="15" fill="#fc7c9e"/><rect x="421.33" y="88.8" width="4.2" height="50.9" fill="none" stroke="#8c8c8c" stroke-width="0.45"/><rect x="426.39" y="88.8" width="4.2" height="28.6" fill="#5143f7"/><rect x="426.39" y="117.4" width="4.2" height="3.4" fill="#a7a6f4"/><rect x="426.39" y="120.8" width="4.2" height="18.9" fill="#fc7c9e"/><rect x="426.39" y="88.8" width="4.2" height="50.9" fill="none" stroke="#8c8c8c" stroke-width="0.45"/><rect x="431.45" y="88.8" width="4.2" height="32.9" fill="#5143f7"/><rect x="431.45" y="121.7" width="4.2" height="18" fill="#a7a6f4"/><rect x="431.45" y="88.8" width="4.2" height="50.9" fill="none" stroke="#8c8c8c" stroke-width="0.45"/><rect x="436.51" y="88.8" width="4.2" height="14.2" fill="#5143f7"/><rect x="436.51" y="103" width="4.2" height="36.7" fill="#a7a6f4"/><rect x="436.51" y="88.8" width="4.2" height="50.9" fill="none" stroke="#8c8c8c" stroke-width="0.45"/><rect x="441.57" y="88.8" width="4.2" height="27.1" fill="#5143f7"/><rect x="441.57" y="115.9" width="4.2" height="16.8" fill="#a7a6f4"/><rect x="441.57" y="132.7" width="4.2" height="7" fill="#fc7c9e"/><rect x="441.57" y="88.8" width="4.2" height="50.9" fill="none" stroke="#8c8c8c" stroke-width="0.45"/><rect x="446.63" y="88.8" width="4.2" height="13.3" fill="#5143f7"/><rect x="446.63" y="102.1" width="4.2" height="37.6" fill="#a7a6f4"/><rect x="446.63" y="88.8" width="4.2" height="50.9" fill="none" stroke="#8c8c8c" stroke-width="0.45"/><rect x="451.69" y="88.8" width="4.2" height="18.9" fill="#5143f7"/><rect x="451.69" y="107.7" width="4.2" height="2.4" fill="#a7a6f4"/><rect x="451.69" y="110.1" width="4.2" height="25.1" fill="#fc7c9e"/><rect x="451.69" y="135.2" width="4.2" height="4.5" fill="#f5433f"/><rect x="451.69" y="88.8" width="4.2" height="50.9" fill="none" stroke="#8c8c8c" stroke-width="0.45"/><rect x="456.76" y="88.8" width="4.2" height="28.3" fill="#5143f7"/><rect x="456.76" y="117.1" width="4.2" height="6.3" fill="#a7a6f4"/><rect x="456.76" y="123.4" width="4.2" height="16.3" fill="#fc7c9e"/><rect x="456.76" y="88.8" width="4.2" height="50.9" fill="none" stroke="#8c8c8c" stroke-width="0.45"/><rect x="461.82" y="88.8" width="4.2" height="29.5" fill="#5143f7"/><rect x="461.82" y="118.3" width="4.2" height="12.7" fill="#a7a6f4"/><rect x="461.82" y="131" width="4.2" height="8.7" fill="#fc7c9e"/><rect x="461.82" y="88.8" width="4.2" height="50.9" fill="none" stroke="#8c8c8c" stroke-width="0.45"/><rect x="466.88" y="88.8" width="4.2" height="17.9" fill="#5143f7"/><rect x="466.88" y="106.7" width="4.2" height="33" fill="#a7a6f4"/><rect x="466.88" y="88.8" width="4.2" height="50.9" fill="none" stroke="#8c8c8c" stroke-width="0.45"/><rect x="471.94" y="88.8" width="4.2" height="40.5" fill="#5143f7"/><rect x="471.94" y="129.3" width="4.2" height="10.4" fill="#fc7c9e"/><rect x="471.94" y="88.8" width="4.2" height="50.9" fill="none" stroke="#8c8c8c" stroke-width="0.45"/><line x1="358.85" x2="487.45" y1="129.52" y2="129.52" stroke="#111" stroke-width="0.9" stroke-dasharray="4.9 3.1" stroke-dashoffset="0.5"/><polyline points="362.7,115.7 367.76,129.5 372.82,129.5 377.88,129.5 382.94,126.2 388,129.5 393.06,128.4 398.12,92 403.18,129.5 408.25,129.5 413.31,129.5 418.37,129.5 423.43,129.5 428.49,129.5 433.55,129.5 438.61,124.2 443.67,129.5 448.73,126.7 453.79,129.5 458.86,129.5 463.92,129.5 468.98,127.7 474.04,129.2" fill="none" stroke="#111" stroke-width="1"/><circle cx="362.7" cy="115.7" r="1.25" fill="#111"/><circle cx="367.76" cy="129.5" r="1.25" fill="#111"/><circle cx="372.82" cy="129.5" r="1.25" fill="#111"/><circle cx="377.88" cy="129.5" r="1.25" fill="#111"/><circle cx="382.94" cy="126.2" r="1.25" fill="#111"/><circle cx="388" cy="129.5" r="1.25" fill="#111"/><circle cx="393.06" cy="128.4" r="1.25" fill="#111"/><circle cx="398.12" cy="92" r="1.25" fill="#111"/><circle cx="403.18" cy="129.5" r="1.25" fill="#111"/><circle cx="408.25" cy="129.5" r="1.25" fill="#111"/><circle cx="413.31" cy="129.5" r="1.25" fill="#111"/><circle cx="418.37" cy="129.5" r="1.25" fill="#111"/><circle cx="423.43" cy="129.5" r="1.25" fill="#111"/><circle cx="428.49" cy="129.5" r="1.25" fill="#111"/><circle cx="433.55" cy="129.5" r="1.25" fill="#111"/><circle cx="438.61" cy="124.2" r="1.25" fill="#111"/><circle cx="443.67" cy="129.5" r="1.25" fill="#111"/><circle cx="448.73" cy="126.7" r="1.25" fill="#111"/><circle cx="453.79" cy="129.5" r="1.25" fill="#111"/><circle cx="458.86" cy="129.5" r="1.25" fill="#111"/><circle cx="463.92" cy="129.5" r="1.25" fill="#111"/><circle cx="468.98" cy="127.7" r="1.25" fill="#111"/><circle cx="474.04" cy="129.2" r="1.25" fill="#111"/><rect x="358.85" y="88.8" width="128.6" height="50.9" fill="none" stroke="#a6a6a6" stroke-width="1.25"/><path d="M362.7 139.7v-1.2M362.7 88.8v1.2M367.76 139.7v-1.2M367.76 88.8v1.2M372.82 139.7v-1.2M372.82 88.8v1.2M377.88 139.7v-1.2M377.88 88.8v1.2M382.94 139.7v-1.2M382.94 88.8v1.2M388 139.7v-1.2M388 88.8v1.2M393.06 139.7v-1.2M393.06 88.8v1.2M398.12 139.7v-1.2M398.12 88.8v1.2M403.18 139.7v-1.2M403.18 88.8v1.2M408.25 139.7v-1.2M408.25 88.8v1.2M413.31 139.7v-1.2M413.31 88.8v1.2M418.37 139.7v-1.2M418.37 88.8v1.2M423.43 139.7v-1.2M423.43 88.8v1.2M428.49 139.7v-1.2M428.49 88.8v1.2M433.55 139.7v-1.2M433.55 88.8v1.2M438.61 139.7v-1.2M438.61 88.8v1.2M443.67 139.7v-1.2M443.67 88.8v1.2M448.73 139.7v-1.2M448.73 88.8v1.2M453.79 139.7v-1.2M453.79 88.8v1.2M458.86 139.7v-1.2M458.86 88.8v1.2M463.92 139.7v-1.2M463.92 88.8v1.2M468.98 139.7v-1.2M468.98 88.8v1.2M474.04 139.7v-1.2M474.04 88.8v1.2M479.1 139.7v-1.2M479.1 88.8v1.2M484.16 139.7v-1.2M484.16 88.8v1.2M358.85 88.8h1.2M358.85 109.16h1.2M358.85 129.52h1.2M487.45 139.7h-1.2M487.45 114.25h-1.2M487.45 88.8h-1.2" stroke="#a6a6a6" stroke-width="0.6" fill="none"/><text transform="translate(356.45,91.25) scale(1.05,1)" text-anchor="end" font-size="7.0" stroke="#1a1a1a" stroke-width="0.16">0.4</text><text transform="translate(356.45,111.61) scale(1.05,1)" text-anchor="end" font-size="7.0" stroke="#1a1a1a" stroke-width="0.16">0.2</text><text transform="translate(356.45,131.97) scale(1.05,1)" text-anchor="end" font-size="7.0" stroke="#1a1a1a" stroke-width="0.16">0</text><text transform="translate(490.25,91.25) scale(1.05,1)" font-size="7.0" stroke="#1a1a1a" stroke-width="0.16">100</text><text transform="translate(490.25,116.7) scale(1.05,1)" font-size="7.0" stroke="#1a1a1a" stroke-width="0.16">50</text><text transform="translate(490.25,142.15) scale(1.05,1)" font-size="7.0" stroke="#1a1a1a" stroke-width="0.16">0</text><rect x="361.27" y="168.6" width="4.14" height="40.73" fill="#7ef29c" stroke="#555" stroke-width="0.5"/><rect x="366.25" y="197.61" width="4.14" height="11.72" fill="#a4f4b8" stroke="#555" stroke-width="0.5"/><rect x="371.24" y="204.63" width="4.14" height="4.7" fill="#3cb371" stroke="#555" stroke-width="0.5"/><rect x="376.22" y="203.69" width="4.14" height="5.64" fill="#16a83c" stroke="#555" stroke-width="0.5"/><rect x="381.21" y="189.28" width="4.14" height="20.05" fill="#047a1e" stroke="#555" stroke-width="0.5"/><rect x="386.19" y="204.63" width="4.14" height="4.7" fill="#f2f2f2" stroke="#555" stroke-width="0.5"/><rect x="391.18" y="206.58" width="4.14" height="2.76" fill="#d2d2d2" stroke="#555" stroke-width="0.5"/><rect x="396.16" y="172.67" width="4.14" height="36.66" fill="#808080" stroke="#555" stroke-width="0.5"/><rect x="401.14" y="207.83" width="4.14" height="1.5" fill="#474747" stroke="#555" stroke-width="0.5"/><rect x="406.13" y="203.88" width="4.14" height="5.45" fill="#222222" stroke="#555" stroke-width="0.5"/><rect x="411.11" y="205.89" width="4.14" height="3.45" fill="#f5e2b0" stroke="#555" stroke-width="0.5"/><rect x="416.1" y="209.33" width="4.14" height="1.57" fill="#c8b496" stroke="#555" stroke-width="0.5"/><rect x="421.08" y="203.44" width="4.14" height="5.89" fill="#deb887" stroke="#555" stroke-width="0.5"/><rect x="426.07" y="209.33" width="4.14" height="0.31" fill="#a05028" stroke="#555" stroke-width="0.5"/><rect x="431.05" y="209.33" width="4.14" height="3.45" fill="#b4461a" stroke="#555" stroke-width="0.5"/><rect x="436.03" y="183.01" width="4.14" height="26.32" fill="#ffffff" stroke="#555" stroke-width="0.5"/><rect x="441.02" y="209.33" width="4.14" height="2.26" fill="#ffffff" stroke="#555" stroke-width="0.5"/><rect x="446" y="200.56" width="4.14" height="8.77" fill="#f01e3c" stroke="#555" stroke-width="0.5"/><rect x="450.99" y="200.81" width="4.14" height="8.52" fill="#d42424" stroke="#555" stroke-width="0.5"/><rect x="455.97" y="203.07" width="4.14" height="6.27" fill="#a01010" stroke="#555" stroke-width="0.5"/><rect x="460.96" y="201.81" width="4.14" height="7.52" fill="#a8e2f8" stroke="#555" stroke-width="0.5"/><rect x="465.94" y="209.21" width="4.14" height="0.3" fill="#80dcec" stroke="#555" stroke-width="0.5"/><rect x="470.92" y="198.99" width="4.14" height="10.34" fill="#ffffff" stroke="#555" stroke-width="0.5"/><line x1="359.5" x2="486.7" y1="209.33" y2="209.33" stroke="#8a8a8a" stroke-width="0.7"/><rect x="359.5" y="164.4" width="127.2" height="51.2" fill="none" stroke="#a6a6a6" stroke-width="1.25"/><path d="M363.34 215.6v-1.2M363.34 164.4v1.2M368.32 215.6v-1.2M368.32 164.4v1.2M373.31 215.6v-1.2M373.31 164.4v1.2M378.29 215.6v-1.2M378.29 164.4v1.2M383.28 215.6v-1.2M383.28 164.4v1.2M388.26 215.6v-1.2M388.26 164.4v1.2M393.24 215.6v-1.2M393.24 164.4v1.2M398.23 215.6v-1.2M398.23 164.4v1.2M403.21 215.6v-1.2M403.21 164.4v1.2M408.2 215.6v-1.2M408.2 164.4v1.2M413.18 215.6v-1.2M413.18 164.4v1.2M418.17 215.6v-1.2M418.17 164.4v1.2M423.15 215.6v-1.2M423.15 164.4v1.2M428.13 215.6v-1.2M428.13 164.4v1.2M433.12 215.6v-1.2M433.12 164.4v1.2M438.1 215.6v-1.2M438.1 164.4v1.2M443.09 215.6v-1.2M443.09 164.4v1.2M448.07 215.6v-1.2M448.07 164.4v1.2M453.06 215.6v-1.2M453.06 164.4v1.2M458.04 215.6v-1.2M458.04 164.4v1.2M463.02 215.6v-1.2M463.02 164.4v1.2M468.01 215.6v-1.2M468.01 164.4v1.2M472.99 215.6v-1.2M472.99 164.4v1.2M477.98 215.6v-1.2M477.98 164.4v1.2M482.96 215.6v-1.2M482.96 164.4v1.2M359.5 171.73h1.2M486.7 171.73h-1.2M359.5 184.27h1.2M486.7 184.27h-1.2M359.5 196.8h1.2M486.7 196.8h-1.2M359.5 209.33h1.2M486.7 209.33h-1.2" stroke="#a6a6a6" stroke-width="0.6" fill="none"/><text transform="translate(357.1,174.18) scale(1.05,1)" text-anchor="end" font-size="7.0" stroke="#1a1a1a" stroke-width="0.16">0.6</text><text transform="translate(357.1,186.72) scale(1.05,1)" text-anchor="end" font-size="7.0" stroke="#1a1a1a" stroke-width="0.16">0.4</text><text transform="translate(357.1,199.25) scale(1.05,1)" text-anchor="end" font-size="7.0" stroke="#1a1a1a" stroke-width="0.16">0.2</text><text transform="translate(357.1,211.78) scale(1.05,1)" text-anchor="end" font-size="7.0" stroke="#1a1a1a" stroke-width="0.16">0</text><rect x="361.44" y="257.47" width="4.17" height="12.89" fill="#7ef29c" stroke="#555" stroke-width="0.5"/><rect x="366.46" y="257.47" width="4.17" height="11.88" fill="#a4f4b8" stroke="#555" stroke-width="0.5"/><rect x="371.49" y="257.47" width="4.17" height="25.45" fill="#3cb371" stroke="#555" stroke-width="0.5"/><rect x="376.52" y="257.47" width="4.17" height="8.82" fill="#ffffff" stroke="#555" stroke-width="0.5"/><rect x="381.55" y="257.3" width="4.17" height="0.3" fill="#047a1e" stroke="#555" stroke-width="0.5"/><rect x="386.58" y="257.47" width="4.17" height="2.38" fill="#f2f2f2" stroke="#555" stroke-width="0.5"/><rect x="391.61" y="257.47" width="4.17" height="2.88" fill="#d2d2d2" stroke="#555" stroke-width="0.5"/><rect x="396.64" y="257.47" width="4.17" height="2.38" fill="#808080" stroke="#555" stroke-width="0.5"/><rect x="401.67" y="248.98" width="4.17" height="8.48" fill="#474747" stroke="#555" stroke-width="0.5"/><rect x="406.7" y="257.47" width="4.17" height="8.48" fill="#222222" stroke="#555" stroke-width="0.5"/><rect x="411.73" y="257.47" width="4.17" height="2.55" fill="#f5d2a0" stroke="#555" stroke-width="0.5"/><rect x="416.76" y="254.75" width="4.17" height="2.71" fill="#f0c080" stroke="#555" stroke-width="0.5"/><rect x="421.79" y="254.75" width="4.17" height="2.71" fill="#ffffff" stroke="#555" stroke-width="0.5"/><rect x="426.82" y="255.77" width="4.17" height="1.7" fill="#ffffff" stroke="#555" stroke-width="0.5"/><rect x="431.85" y="257.47" width="4.17" height="11.88" fill="#b4461a" stroke="#555" stroke-width="0.5"/><rect x="436.88" y="257.47" width="4.17" height="7.13" fill="#ffb4be" stroke="#555" stroke-width="0.5"/><rect x="441.91" y="257.47" width="4.17" height="19" fill="#f88a6c" stroke="#555" stroke-width="0.5"/><rect x="446.94" y="248.3" width="4.17" height="9.16" fill="#f01e3c" stroke="#555" stroke-width="0.5"/><rect x="451.97" y="243.55" width="4.17" height="13.91" fill="#d42424" stroke="#555" stroke-width="0.5"/><rect x="457" y="244.74" width="4.17" height="12.72" fill="#a01010" stroke="#555" stroke-width="0.5"/><rect x="462.03" y="245.25" width="4.17" height="12.22" fill="#a8e2f8" stroke="#555" stroke-width="0.5"/><rect x="467.06" y="247.29" width="4.17" height="10.18" fill="#80dcec" stroke="#555" stroke-width="0.5"/><rect x="472.08" y="257.47" width="4.17" height="1.36" fill="#2890f0" stroke="#555" stroke-width="0.5"/><line x1="359.7" x2="487.5" y1="257.47" y2="257.47" stroke="#8a8a8a" stroke-width="0.7"/><rect x="359.7" y="240.5" width="127.8" height="50.9" fill="none" stroke="#a6a6a6" stroke-width="1.25"/><path d="M363.52 291.4v-1.2M363.52 240.5v1.2M368.55 291.4v-1.2M368.55 240.5v1.2M373.58 291.4v-1.2M373.58 240.5v1.2M378.61 291.4v-1.2M378.61 240.5v1.2M383.64 291.4v-1.2M383.64 240.5v1.2M388.67 291.4v-1.2M388.67 240.5v1.2M393.7 291.4v-1.2M393.7 240.5v1.2M398.73 291.4v-1.2M398.73 240.5v1.2M403.76 291.4v-1.2M403.76 240.5v1.2M408.79 291.4v-1.2M408.79 240.5v1.2M413.82 291.4v-1.2M413.82 240.5v1.2M418.85 291.4v-1.2M418.85 240.5v1.2M423.88 291.4v-1.2M423.88 240.5v1.2M428.91 291.4v-1.2M428.91 240.5v1.2M433.94 291.4v-1.2M433.94 240.5v1.2M438.97 291.4v-1.2M438.97 240.5v1.2M443.99 291.4v-1.2M443.99 240.5v1.2M449.02 291.4v-1.2M449.02 240.5v1.2M454.05 291.4v-1.2M454.05 240.5v1.2M459.08 291.4v-1.2M459.08 240.5v1.2M464.11 291.4v-1.2M464.11 240.5v1.2M469.14 291.4v-1.2M469.14 240.5v1.2M474.17 291.4v-1.2M474.17 240.5v1.2M479.2 291.4v-1.2M479.2 240.5v1.2M484.23 291.4v-1.2M484.23 240.5v1.2M359.7 240.5h1.2M487.5 240.5h-1.2M359.7 257.47h1.2M487.5 257.47h-1.2M359.7 274.43h1.2M487.5 274.43h-1.2M359.7 291.4h1.2M487.5 291.4h-1.2" stroke="#a6a6a6" stroke-width="0.6" fill="none"/><text transform="translate(357.3,242.95) scale(1.05,1)" text-anchor="end" font-size="7.0" stroke="#1a1a1a" stroke-width="0.16">5</text><text transform="translate(357.3,259.92) scale(1.05,1)" text-anchor="end" font-size="7.0" stroke="#1a1a1a" stroke-width="0.16">0</text><text transform="translate(357.3,276.88) scale(1.05,1)" text-anchor="end" font-size="7.0" stroke="#1a1a1a" stroke-width="0.16">-5</text><text transform="translate(357.3,293.85) scale(1.05,1)" text-anchor="end" font-size="7.0" stroke="#1a1a1a" stroke-width="0.16">-10</text><text x="359.4" y="238.5" font-size="7.6">×10<tspan dy="-2.8" font-size="5">-5</tspan></text><text transform="translate(365.72,293.8) rotate(-90)" text-anchor="end" font-size="6.4" stroke="#1a1a1a" stroke-width="0.1">1</text><text transform="translate(370.75,293.8) rotate(-90)" text-anchor="end" font-size="6.4" stroke="#1a1a1a" stroke-width="0.1">2</text><text transform="translate(375.78,293.8) rotate(-90)" text-anchor="end" font-size="6.4" stroke="#1a1a1a" stroke-width="0.1">3</text><text transform="translate(380.81,293.8) rotate(-90)" text-anchor="end" font-size="6.4" stroke="#1a1a1a" stroke-width="0.1">4</text><text transform="translate(385.84,293.8) rotate(-90)" text-anchor="end" font-size="6.4" stroke="#1a1a1a" stroke-width="0.1">5</text><text transform="translate(390.87,293.8) rotate(-90)" text-anchor="end" font-size="6.4" stroke="#1a1a1a" stroke-width="0.1">6</text><text transform="translate(395.9,293.8) rotate(-90)" text-anchor="end" font-size="6.4" stroke="#1a1a1a" stroke-width="0.1">7</text><text transform="translate(400.93,293.8) rotate(-90)" text-anchor="end" font-size="6.4" stroke="#1a1a1a" stroke-width="0.1">8</text><text transform="translate(405.96,293.8) rotate(-90)" text-anchor="end" font-size="6.4" stroke="#1a1a1a" stroke-width="0.1">9</text><text transform="translate(410.99,293.8) rotate(-90)" text-anchor="end" font-size="6.4" stroke="#1a1a1a" stroke-width="0.1">10</text><text transform="translate(416.02,293.8) rotate(-90)" text-anchor="end" font-size="6.4" stroke="#1a1a1a" stroke-width="0.1">11</text><text transform="translate(421.05,293.8) rotate(-90)" text-anchor="end" font-size="6.4" stroke="#1a1a1a" stroke-width="0.1">12</text><text transform="translate(426.08,293.8) rotate(-90)" text-anchor="end" font-size="6.4" stroke="#1a1a1a" stroke-width="0.1">13</text><text transform="translate(431.11,293.8) rotate(-90)" text-anchor="end" font-size="6.4" stroke="#1a1a1a" stroke-width="0.1">14</text><text transform="translate(436.14,293.8) rotate(-90)" text-anchor="end" font-size="6.4" stroke="#1a1a1a" stroke-width="0.1">15</text><text transform="translate(441.17,293.8) rotate(-90)" text-anchor="end" font-size="6.4" stroke="#1a1a1a" stroke-width="0.1">16</text><text transform="translate(446.19,293.8) rotate(-90)" text-anchor="end" font-size="6.4" stroke="#1a1a1a" stroke-width="0.1">17</text><text transform="translate(451.22,293.8) rotate(-90)" text-anchor="end" font-size="6.4" stroke="#1a1a1a" stroke-width="0.1">18</text><text transform="translate(456.25,293.8) rotate(-90)" text-anchor="end" font-size="6.4" stroke="#1a1a1a" stroke-width="0.1">19</text><text transform="translate(461.28,293.8) rotate(-90)" text-anchor="end" font-size="6.4" stroke="#1a1a1a" stroke-width="0.1">20</text><text transform="translate(466.31,293.8) rotate(-90)" text-anchor="end" font-size="6.4" stroke="#1a1a1a" stroke-width="0.1">21</text><text transform="translate(471.34,293.8) rotate(-90)" text-anchor="end" font-size="6.4" stroke="#1a1a1a" stroke-width="0.1">22</text><text transform="translate(476.37,293.8) rotate(-90)" text-anchor="end" font-size="6.4" stroke="#1a1a1a" stroke-width="0.1">23</text><text transform="translate(481.4,293.8) rotate(-90)" text-anchor="end" font-size="6.4" stroke="#1a1a1a" stroke-width="0.1">24</text><text transform="translate(486.43,293.8) rotate(-90)" text-anchor="end" font-size="6.4" stroke="#1a1a1a" stroke-width="0.1">25</text><g><path d="M519.24 27.6V68.5M524.17 36.7V62.2M529.1 43V63M534.03 33V58.5M538.95 24V63M543.88 35.8V57.6M548.81 36.7V60.4M553.74 17.6V58M558.66 35.8V53M563.59 37.6V54M568.52 35.8V55.8M573.44 43V60.4M578.37 41.3V57.6M583.3 39.5V61.6M588.23 39.5V52M593.15 24.9V54M598.08 39.5V54M603.01 37.6V50.4M607.93 34.9V61.3M612.86 41.3V58.5M617.79 41.3V55M622.72 38.5V52.2M627.64 45V55" stroke="#c4c4c4" stroke-width="0.9" fill="none"/><rect x="518.24" y="42.9" width="2.0" height="8.7" rx="0.8" fill="#5e5e5e"/><circle cx="519.24" cy="27.6" r="1.25" fill="#7c7c7c" stroke="#484848" stroke-width="0.55"/><circle cx="519.24" cy="29.5" r="1.25" fill="#7c7c7c" stroke="#484848" stroke-width="0.55"/><circle cx="519.24" cy="65.8" r="1.25" fill="#7c7c7c" stroke="#484848" stroke-width="0.55"/><circle cx="519.24" cy="67.5" r="1.25" fill="#7c7c7c" stroke="#484848" stroke-width="0.55"/><rect x="523.17" y="44.7" width="2.0" height="9.1" rx="0.8" fill="#5e5e5e"/><rect x="528.1" y="51.3" width="2.0" height="4" rx="0.8" fill="#5e5e5e"/><circle cx="529.1" cy="57.5" r="1.25" fill="#7c7c7c" stroke="#484848" stroke-width="0.55"/><circle cx="529.1" cy="59.3" r="1.25" fill="#7c7c7c" stroke="#484848" stroke-width="0.55"/><rect x="533.03" y="44.7" width="2.0" height="5.8" rx="0.8" fill="#5e5e5e"/><circle cx="534.03" cy="33" r="1.25" fill="#7c7c7c" stroke="#484848" stroke-width="0.55"/><circle cx="534.03" cy="34.8" r="1.25" fill="#7c7c7c" stroke="#484848" stroke-width="0.55"/><circle cx="534.03" cy="36.5" r="1.25" fill="#7c7c7c" stroke="#484848" stroke-width="0.55"/><circle cx="534.03" cy="57.6" r="1.25" fill="#7c7c7c" stroke="#484848" stroke-width="0.55"/><rect x="537.95" y="43.3" width="2.0" height="5.8" rx="0.8" fill="#5e5e5e"/><circle cx="538.95" cy="24" r="1.25" fill="#7c7c7c" stroke="#484848" stroke-width="0.55"/><circle cx="538.95" cy="26" r="1.25" fill="#7c7c7c" stroke="#484848" stroke-width="0.55"/><circle cx="538.95" cy="28" r="1.25" fill="#7c7c7c" stroke="#484848" stroke-width="0.55"/><circle cx="538.95" cy="30" r="1.25" fill="#7c7c7c" stroke="#484848" stroke-width="0.55"/><circle cx="538.95" cy="32" r="1.25" fill="#7c7c7c" stroke="#484848" stroke-width="0.55"/><circle cx="538.95" cy="34.3" r="1.25" fill="#7c7c7c" stroke="#484848" stroke-width="0.55"/><circle cx="538.95" cy="57" r="1.25" fill="#7c7c7c" stroke="#484848" stroke-width="0.55"/><circle cx="538.95" cy="59" r="1.25" fill="#7c7c7c" stroke="#484848" stroke-width="0.55"/><circle cx="538.95" cy="60.7" r="1.25" fill="#7c7c7c" stroke="#484848" stroke-width="0.55"/><circle cx="538.95" cy="62.5" r="1.25" fill="#7c7c7c" stroke="#484848" stroke-width="0.55"/><rect x="542.88" y="44.7" width="2.0" height="5.1" rx="0.8" fill="#5e5e5e"/><circle cx="543.88" cy="57" r="1.25" fill="#7c7c7c" stroke="#484848" stroke-width="0.55"/><rect x="547.81" y="44" width="2.0" height="5.5" rx="0.8" fill="#5e5e5e"/><circle cx="548.81" cy="57.6" r="1.25" fill="#7c7c7c" stroke="#484848" stroke-width="0.55"/><circle cx="548.81" cy="59.5" r="1.25" fill="#7c7c7c" stroke="#484848" stroke-width="0.55"/><rect x="552.74" y="38.9" width="2.0" height="5.1" rx="0.8" fill="#5e5e5e"/><circle cx="553.74" cy="17.6" r="1.25" fill="#7c7c7c" stroke="#484848" stroke-width="0.55"/><circle cx="553.74" cy="19.5" r="1.25" fill="#7c7c7c" stroke="#484848" stroke-width="0.55"/><circle cx="553.74" cy="21.5" r="1.25" fill="#7c7c7c" stroke="#484848" stroke-width="0.55"/><circle cx="553.74" cy="23.5" r="1.25" fill="#7c7c7c" stroke="#484848" stroke-width="0.55"/><circle cx="553.74" cy="25.5" r="1.25" fill="#7c7c7c" stroke="#484848" stroke-width="0.55"/><circle cx="553.74" cy="27.5" r="1.25" fill="#7c7c7c" stroke="#484848" stroke-width="0.55"/><circle cx="553.74" cy="29.5" r="1.25" fill="#7c7c7c" stroke="#484848" stroke-width="0.55"/><circle cx="553.74" cy="31.3" r="1.25" fill="#7c7c7c" stroke="#484848" stroke-width="0.55"/><circle cx="553.74" cy="54.3" r="1.25" fill="#7c7c7c" stroke="#484848" stroke-width="0.55"/><circle cx="553.74" cy="56.2" r="1.25" fill="#7c7c7c" stroke="#484848" stroke-width="0.55"/><circle cx="553.74" cy="58" r="1.25" fill="#7c7c7c" stroke="#484848" stroke-width="0.55"/><rect x="557.66" y="44" width="2.0" height="3.6" rx="0.8" fill="#5e5e5e"/><circle cx="558.66" cy="35.8" r="1.25" fill="#7c7c7c" stroke="#484848" stroke-width="0.55"/><rect x="562.59" y="43" width="2.0" height="6" rx="0.8" fill="#5e5e5e"/><rect x="567.52" y="43" width="2.0" height="6.5" rx="0.8" fill="#5e5e5e"/><rect x="572.44" y="49" width="2.0" height="5" rx="0.8" fill="#5e5e5e"/><rect x="577.37" y="46" width="2.0" height="4" rx="0.8" fill="#5e5e5e"/><circle cx="578.37" cy="54.9" r="1.25" fill="#7c7c7c" stroke="#484848" stroke-width="0.55"/><rect x="582.3" y="46" width="2.0" height="6" rx="0.8" fill="#5e5e5e"/><circle cx="583.3" cy="59.5" r="1.25" fill="#7c7c7c" stroke="#484848" stroke-width="0.55"/><circle cx="583.3" cy="61.6" r="1.25" fill="#7c7c7c" stroke="#484848" stroke-width="0.55"/><rect x="587.23" y="42" width="2.0" height="4" rx="0.8" fill="#5e5e5e"/><circle cx="588.23" cy="39.5" r="1.25" fill="#7c7c7c" stroke="#484848" stroke-width="0.55"/><circle cx="588.23" cy="47.8" r="1.25" fill="#7c7c7c" stroke="#484848" stroke-width="0.55"/><circle cx="588.23" cy="49.8" r="1.25" fill="#7c7c7c" stroke="#484848" stroke-width="0.55"/><rect x="592.15" y="41" width="2.0" height="5" rx="0.8" fill="#5e5e5e"/><circle cx="593.15" cy="25.2" r="1.25" fill="#7c7c7c" stroke="#484848" stroke-width="0.55"/><circle cx="593.15" cy="27.2" r="1.25" fill="#7c7c7c" stroke="#484848" stroke-width="0.55"/><circle cx="593.15" cy="29.2" r="1.25" fill="#7c7c7c" stroke="#484848" stroke-width="0.55"/><circle cx="593.15" cy="31.2" r="1.25" fill="#7c7c7c" stroke="#484848" stroke-width="0.55"/><circle cx="593.15" cy="33.2" r="1.25" fill="#7c7c7c" stroke="#484848" stroke-width="0.55"/><circle cx="593.15" cy="35.2" r="1.25" fill="#7c7c7c" stroke="#484848" stroke-width="0.55"/><circle cx="593.15" cy="51" r="1.25" fill="#7c7c7c" stroke="#484848" stroke-width="0.55"/><circle cx="593.15" cy="53.3" r="1.25" fill="#7c7c7c" stroke="#484848" stroke-width="0.55"/><rect x="597.08" y="44" width="2.0" height="4" rx="0.8" fill="#5e5e5e"/><rect x="602.01" y="40.5" width="2.0" height="4.5" rx="0.8" fill="#5e5e5e"/><rect x="606.93" y="47" width="2.0" height="6" rx="0.8" fill="#5e5e5e"/><circle cx="607.93" cy="34.9" r="1.25" fill="#7c7c7c" stroke="#484848" stroke-width="0.55"/><circle cx="607.93" cy="36.8" r="1.25" fill="#7c7c7c" stroke="#484848" stroke-width="0.55"/><circle cx="607.93" cy="38.8" r="1.25" fill="#7c7c7c" stroke="#484848" stroke-width="0.55"/><circle cx="607.93" cy="41.3" r="1.25" fill="#7c7c7c" stroke="#484848" stroke-width="0.55"/><circle cx="607.93" cy="52" r="1.25" fill="#7c7c7c" stroke="#484848" stroke-width="0.55"/><rect x="611.86" y="45" width="2.0" height="5" rx="0.8" fill="#5e5e5e"/><rect x="616.79" y="43" width="2.0" height="5" rx="0.8" fill="#5e5e5e"/><rect x="621.72" y="41" width="2.0" height="5" rx="0.8" fill="#5e5e5e"/><circle cx="622.72" cy="50.4" r="1.25" fill="#7c7c7c" stroke="#484848" stroke-width="0.55"/><circle cx="622.72" cy="51.3" r="1.25" fill="#7c7c7c" stroke="#484848" stroke-width="0.55"/><rect x="626.64" y="47" width="2.0" height="4" rx="0.8" fill="#5e5e5e"/><circle cx="627.64" cy="65.8" r="1.25" fill="#7c7c7c" stroke="#484848" stroke-width="0.55"/><circle cx="519.24" cy="47.6" r="1.15" fill="#fff" stroke="#9a9a9a" stroke-width="0.4"/><circle cx="524.17" cy="48.4" r="1.15" fill="#fff" stroke="#9a9a9a" stroke-width="0.4"/><circle cx="529.1" cy="54.9" r="1.15" fill="#fff" stroke="#9a9a9a" stroke-width="0.4"/><circle cx="534.03" cy="47.6" r="1.15" fill="#fff" stroke="#9a9a9a" stroke-width="0.4"/><circle cx="538.95" cy="46.2" r="1.15" fill="#fff" stroke="#9a9a9a" stroke-width="0.4"/><circle cx="543.88" cy="47.3" r="1.15" fill="#fff" stroke="#9a9a9a" stroke-width="0.4"/><circle cx="548.81" cy="46.2" r="1.15" fill="#fff" stroke="#9a9a9a" stroke-width="0.4"/><circle cx="553.74" cy="41.8" r="1.15" fill="#fff" stroke="#9a9a9a" stroke-width="0.4"/><circle cx="558.66" cy="46.5" r="1.15" fill="#fff" stroke="#9a9a9a" stroke-width="0.4"/><circle cx="563.59" cy="46.4" r="1.15" fill="#fff" stroke="#9a9a9a" stroke-width="0.4"/><circle cx="568.52" cy="46.4" r="1.15" fill="#fff" stroke="#9a9a9a" stroke-width="0.4"/><circle cx="573.44" cy="51.8" r="1.15" fill="#fff" stroke="#9a9a9a" stroke-width="0.4"/><circle cx="578.37" cy="48.2" r="1.15" fill="#fff" stroke="#9a9a9a" stroke-width="0.4"/><circle cx="583.3" cy="49.5" r="1.15" fill="#fff" stroke="#9a9a9a" stroke-width="0.4"/><circle cx="588.23" cy="44" r="1.15" fill="#fff" stroke="#9a9a9a" stroke-width="0.4"/><circle cx="593.15" cy="43.1" r="1.15" fill="#fff" stroke="#9a9a9a" stroke-width="0.4"/><circle cx="598.08" cy="45.8" r="1.15" fill="#fff" stroke="#9a9a9a" stroke-width="0.4"/><circle cx="603.01" cy="42.2" r="1.15" fill="#fff" stroke="#9a9a9a" stroke-width="0.4"/><circle cx="607.93" cy="50.4" r="1.15" fill="#fff" stroke="#9a9a9a" stroke-width="0.4"/><circle cx="612.86" cy="47.6" r="1.15" fill="#fff" stroke="#9a9a9a" stroke-width="0.4"/><circle cx="617.79" cy="45.3" r="1.15" fill="#fff" stroke="#9a9a9a" stroke-width="0.4"/><circle cx="622.72" cy="43.1" r="1.15" fill="#fff" stroke="#9a9a9a" stroke-width="0.4"/><circle cx="627.64" cy="49.5" r="1.15" fill="#fff" stroke="#9a9a9a" stroke-width="0.4"/><polyline points="519.24,47.6 524.17,48.4 529.1,54.9 534.03,47.6 538.95,46.2 543.88,47.3 548.81,46.2 553.74,41.8 558.66,46.5 563.59,46.4 568.52,46.4 573.44,51.8 578.37,48.2 583.3,49.5 588.23,44 593.15,43.1 598.08,45.8 603.01,42.2 607.93,50.4 612.86,47.6 617.79,45.3 622.72,43.1 627.64,49.5" fill="none" stroke="#8e2ba0" stroke-width="1.25" stroke-linejoin="round"/></g><rect x="515.5" y="15.2" width="125.2" height="57.2" fill="none" stroke="#a6a6a6" stroke-width="1.25"/><path d="M519.24 72.4v-1.2M519.24 15.2v1.2M524.17 72.4v-1.2M524.17 15.2v1.2M529.1 72.4v-1.2M529.1 15.2v1.2M534.03 72.4v-1.2M534.03 15.2v1.2M538.95 72.4v-1.2M538.95 15.2v1.2M543.88 72.4v-1.2M543.88 15.2v1.2M548.81 72.4v-1.2M548.81 15.2v1.2M553.74 72.4v-1.2M553.74 15.2v1.2M558.66 72.4v-1.2M558.66 15.2v1.2M563.59 72.4v-1.2M563.59 15.2v1.2M568.52 72.4v-1.2M568.52 15.2v1.2M573.44 72.4v-1.2M573.44 15.2v1.2M578.37 72.4v-1.2M578.37 15.2v1.2M583.3 72.4v-1.2M583.3 15.2v1.2M588.23 72.4v-1.2M588.23 15.2v1.2M593.15 72.4v-1.2M593.15 15.2v1.2M598.08 72.4v-1.2M598.08 15.2v1.2M603.01 72.4v-1.2M603.01 15.2v1.2M607.93 72.4v-1.2M607.93 15.2v1.2M612.86 72.4v-1.2M612.86 15.2v1.2M617.79 72.4v-1.2M617.79 15.2v1.2M622.72 72.4v-1.2M622.72 15.2v1.2M627.64 72.4v-1.2M627.64 15.2v1.2M632.57 72.4v-1.2M632.57 15.2v1.2M637.5 72.4v-1.2M637.5 15.2v1.2M515.5 15.2h1.2M640.7 15.2h-1.2M515.5 32.8h1.2M640.7 32.8h-1.2M515.5 50.4h1.2M640.7 50.4h-1.2M515.5 68h1.2M640.7 68h-1.2" stroke="#a6a6a6" stroke-width="0.6" fill="none"/><text transform="translate(513.1,17.65) scale(1.05,1)" text-anchor="end" font-size="7.0" stroke="#1a1a1a" stroke-width="0.16">0.2</text><text transform="translate(513.1,35.25) scale(1.05,1)" text-anchor="end" font-size="7.0" stroke="#1a1a1a" stroke-width="0.16">0.1</text><text transform="translate(513.1,52.85) scale(1.05,1)" text-anchor="end" font-size="7.0" stroke="#1a1a1a" stroke-width="0.16">0</text><text transform="translate(513.1,70.45) scale(1.05,1)" text-anchor="end" font-size="7.0" stroke="#1a1a1a" stroke-width="0.16">-0.1</text><text transform="translate(578.1,10.35) scale(0.955,1)" text-anchor="middle" font-size="14.0">SWA4</text><rect x="518.57" y="88.8" width="4.01" height="20.1" fill="#5143f7"/><rect x="518.57" y="108.9" width="4.01" height="11.9" fill="#a7a6f4"/><rect x="518.57" y="120.8" width="4.01" height="13.1" fill="#fc7c9e"/><rect x="518.57" y="133.9" width="4.01" height="5.8" fill="#f5433f"/><rect x="518.57" y="88.8" width="4.01" height="50.9" fill="none" stroke="#8c8c8c" stroke-width="0.45"/><rect x="523.4" y="88.8" width="4.01" height="26.1" fill="#5143f7"/><rect x="523.4" y="114.9" width="4.01" height="5.9" fill="#a7a6f4"/><rect x="523.4" y="120.8" width="4.01" height="14.1" fill="#fc7c9e"/><rect x="523.4" y="134.9" width="4.01" height="4.8" fill="#f5433f"/><rect x="523.4" y="88.8" width="4.01" height="50.9" fill="none" stroke="#8c8c8c" stroke-width="0.45"/><rect x="528.23" y="88.8" width="4.01" height="11.1" fill="#5143f7"/><rect x="528.23" y="99.9" width="4.01" height="16.3" fill="#fc7c9e"/><rect x="528.23" y="116.2" width="4.01" height="23.5" fill="#f5433f"/><rect x="528.23" y="88.8" width="4.01" height="50.9" fill="none" stroke="#8c8c8c" stroke-width="0.45"/><rect x="533.07" y="88.8" width="4.01" height="32.9" fill="#5143f7"/><rect x="533.07" y="121.7" width="4.01" height="4.2" fill="#a7a6f4"/><rect x="533.07" y="125.9" width="4.01" height="13.8" fill="#fc7c9e"/><rect x="533.07" y="88.8" width="4.01" height="50.9" fill="none" stroke="#8c8c8c" stroke-width="0.45"/><rect x="537.9" y="88.8" width="4.01" height="26.9" fill="#5143f7"/><rect x="537.9" y="115.7" width="4.01" height="14.8" fill="#a7a6f4"/><rect x="537.9" y="130.5" width="4.01" height="9.2" fill="#fc7c9e"/><rect x="537.9" y="88.8" width="4.01" height="50.9" fill="none" stroke="#8c8c8c" stroke-width="0.45"/><rect x="542.73" y="88.8" width="4.01" height="37.9" fill="#5143f7"/><rect x="542.73" y="126.7" width="4.01" height="3.8" fill="#a7a6f4"/><rect x="542.73" y="130.5" width="4.01" height="9.2" fill="#fc7c9e"/><rect x="542.73" y="88.8" width="4.01" height="50.9" fill="none" stroke="#8c8c8c" stroke-width="0.45"/><rect x="547.56" y="88.8" width="4.01" height="23.5" fill="#5143f7"/><rect x="547.56" y="112.3" width="4.01" height="18.7" fill="#a7a6f4"/><rect x="547.56" y="131" width="4.01" height="8.7" fill="#fc7c9e"/><rect x="547.56" y="88.8" width="4.01" height="50.9" fill="none" stroke="#8c8c8c" stroke-width="0.45"/><rect x="552.4" y="88.8" width="4.01" height="17.2" fill="#5143f7"/><rect x="552.4" y="106" width="4.01" height="33.7" fill="#a7a6f4"/><rect x="552.4" y="88.8" width="4.01" height="50.9" fill="none" stroke="#8c8c8c" stroke-width="0.45"/><rect x="557.23" y="88.8" width="4.01" height="40.5" fill="#5143f7"/><rect x="557.23" y="129.3" width="4.01" height="10.4" fill="#fc7c9e"/><rect x="557.23" y="88.8" width="4.01" height="50.9" fill="none" stroke="#8c8c8c" stroke-width="0.45"/><rect x="562.06" y="88.8" width="4.01" height="28.6" fill="#5143f7"/><rect x="562.06" y="117.4" width="4.01" height="10.2" fill="#a7a6f4"/><rect x="562.06" y="127.6" width="4.01" height="12.1" fill="#fc7c9e"/><rect x="562.06" y="88.8" width="4.01" height="50.9" fill="none" stroke="#8c8c8c" stroke-width="0.45"/><rect x="566.89" y="88.8" width="4.01" height="24" fill="#5143f7"/><rect x="566.89" y="112.8" width="4.01" height="13.1" fill="#a7a6f4"/><rect x="566.89" y="125.9" width="4.01" height="13.8" fill="#fc7c9e"/><rect x="566.89" y="88.8" width="4.01" height="50.9" fill="none" stroke="#8c8c8c" stroke-width="0.45"/><rect x="571.73" y="88.8" width="4.01" height="13.8" fill="#5143f7"/><rect x="571.73" y="102.6" width="4.01" height="35.2" fill="#fc7c9e"/><rect x="571.73" y="137.8" width="4.01" height="1.9" fill="#f5433f"/><rect x="571.73" y="88.8" width="4.01" height="50.9" fill="none" stroke="#8c8c8c" stroke-width="0.45"/><rect x="576.56" y="88.8" width="4.01" height="38.8" fill="#5143f7"/><rect x="576.56" y="127.6" width="4.01" height="12.1" fill="#fc7c9e"/><rect x="576.56" y="88.8" width="4.01" height="50.9" fill="none" stroke="#8c8c8c" stroke-width="0.45"/><rect x="581.39" y="88.8" width="4.01" height="27.4" fill="#5143f7"/><rect x="581.39" y="116.2" width="4.01" height="2.1" fill="#a7a6f4"/><rect x="581.39" y="118.3" width="4.01" height="21.4" fill="#fc7c9e"/><rect x="581.39" y="88.8" width="4.01" height="50.9" fill="none" stroke="#8c8c8c" stroke-width="0.45"/><rect x="586.23" y="88.8" width="4.01" height="28.6" fill="#5143f7"/><rect x="586.23" y="117.4" width="4.01" height="22.3" fill="#a7a6f4"/><rect x="586.23" y="88.8" width="4.01" height="50.9" fill="none" stroke="#8c8c8c" stroke-width="0.45"/><rect x="591.06" y="88.8" width="4.01" height="15" fill="#5143f7"/><rect x="591.06" y="103.8" width="4.01" height="34.2" fill="#a7a6f4"/><rect x="591.06" y="138" width="4.01" height="1.7" fill="#fc7c9e"/><rect x="591.06" y="88.8" width="4.01" height="50.9" fill="none" stroke="#8c8c8c" stroke-width="0.45"/><rect x="595.89" y="88.8" width="4.01" height="28.6" fill="#5143f7"/><rect x="595.89" y="117.4" width="4.01" height="15.8" fill="#a7a6f4"/><rect x="595.89" y="133.2" width="4.01" height="6.5" fill="#fc7c9e"/><rect x="595.89" y="88.8" width="4.01" height="50.9" fill="none" stroke="#8c8c8c" stroke-width="0.45"/><rect x="600.72" y="88.8" width="4.01" height="17.9" fill="#5143f7"/><rect x="600.72" y="106.7" width="4.01" height="33" fill="#a7a6f4"/><rect x="600.72" y="88.8" width="4.01" height="50.9" fill="none" stroke="#8c8c8c" stroke-width="0.45"/><rect x="605.56" y="88.8" width="4.01" height="18.4" fill="#5143f7"/><rect x="605.56" y="107.2" width="4.01" height="2.6" fill="#a7a6f4"/><rect x="605.56" y="109.8" width="4.01" height="25.4" fill="#fc7c9e"/><rect x="605.56" y="135.2" width="4.01" height="4.5" fill="#f5433f"/><rect x="605.56" y="88.8" width="4.01" height="50.9" fill="none" stroke="#8c8c8c" stroke-width="0.45"/><rect x="610.39" y="88.8" width="4.01" height="28.1" fill="#5143f7"/><rect x="610.39" y="116.9" width="4.01" height="6.1" fill="#a7a6f4"/><rect x="610.39" y="123" width="4.01" height="16.7" fill="#fc7c9e"/><rect x="610.39" y="88.8" width="4.01" height="50.9" fill="none" stroke="#8c8c8c" stroke-width="0.45"/><rect x="615.22" y="88.8" width="4.01" height="30.3" fill="#5143f7"/><rect x="615.22" y="119.1" width="4.01" height="11.9" fill="#a7a6f4"/><rect x="615.22" y="131" width="4.01" height="8.7" fill="#fc7c9e"/><rect x="615.22" y="88.8" width="4.01" height="50.9" fill="none" stroke="#8c8c8c" stroke-width="0.45"/><rect x="620.05" y="88.8" width="4.01" height="21" fill="#5143f7"/><rect x="620.05" y="109.8" width="4.01" height="29.9" fill="#a7a6f4"/><rect x="620.05" y="88.8" width="4.01" height="50.9" fill="none" stroke="#8c8c8c" stroke-width="0.45"/><rect x="624.89" y="88.8" width="4.01" height="18.9" fill="#5143f7"/><rect x="624.89" y="107.7" width="4.01" height="32" fill="#fc7c9e"/><rect x="624.89" y="88.8" width="4.01" height="50.9" fill="none" stroke="#8c8c8c" stroke-width="0.45"/><polyline points="520.57,117.7 525.41,129.3 530.24,129.3 535.07,129.3 539.9,126.7 544.74,129.3 549.57,128.6 554.4,106.4 559.23,129.3 564.07,129.3 568.9,129.3 573.73,129.3 578.57,129.3 583.4,129.3 588.23,129.3 593.06,125.9 597.9,129.3 602.73,126.7 607.56,129.3 612.4,129.3 617.23,129.3 622.06,127.6 626.89,129.5" fill="none" stroke="#111" stroke-width="1"/><circle cx="520.57" cy="117.7" r="1.25" fill="#111"/><circle cx="525.41" cy="129.3" r="1.25" fill="#111"/><circle cx="530.24" cy="129.3" r="1.25" fill="#111"/><circle cx="535.07" cy="129.3" r="1.25" fill="#111"/><circle cx="539.9" cy="126.7" r="1.25" fill="#111"/><circle cx="544.74" cy="129.3" r="1.25" fill="#111"/><circle cx="549.57" cy="128.6" r="1.25" fill="#111"/><circle cx="554.4" cy="106.4" r="1.25" fill="#111"/><circle cx="559.23" cy="129.3" r="1.25" fill="#111"/><circle cx="564.07" cy="129.3" r="1.25" fill="#111"/><circle cx="568.9" cy="129.3" r="1.25" fill="#111"/><circle cx="573.73" cy="129.3" r="1.25" fill="#111"/><circle cx="578.57" cy="129.3" r="1.25" fill="#111"/><circle cx="583.4" cy="129.3" r="1.25" fill="#111"/><circle cx="588.23" cy="129.3" r="1.25" fill="#111"/><circle cx="593.06" cy="125.9" r="1.25" fill="#111"/><circle cx="597.9" cy="129.3" r="1.25" fill="#111"/><circle cx="602.73" cy="126.7" r="1.25" fill="#111"/><circle cx="607.56" cy="129.3" r="1.25" fill="#111"/><circle cx="612.4" cy="129.3" r="1.25" fill="#111"/><circle cx="617.23" cy="129.3" r="1.25" fill="#111"/><circle cx="622.06" cy="127.6" r="1.25" fill="#111"/><circle cx="626.89" cy="129.5" r="1.25" fill="#111"/><rect x="516.9" y="88.8" width="122.8" height="50.9" fill="none" stroke="#a6a6a6" stroke-width="1.25"/><path d="M520.57 139.7v-1.2M520.57 88.8v1.2M525.41 139.7v-1.2M525.41 88.8v1.2M530.24 139.7v-1.2M530.24 88.8v1.2M535.07 139.7v-1.2M535.07 88.8v1.2M539.9 139.7v-1.2M539.9 88.8v1.2M544.74 139.7v-1.2M544.74 88.8v1.2M549.57 139.7v-1.2M549.57 88.8v1.2M554.4 139.7v-1.2M554.4 88.8v1.2M559.23 139.7v-1.2M559.23 88.8v1.2M564.07 139.7v-1.2M564.07 88.8v1.2M568.9 139.7v-1.2M568.9 88.8v1.2M573.73 139.7v-1.2M573.73 88.8v1.2M578.57 139.7v-1.2M578.57 88.8v1.2M583.4 139.7v-1.2M583.4 88.8v1.2M588.23 139.7v-1.2M588.23 88.8v1.2M593.06 139.7v-1.2M593.06 88.8v1.2M597.9 139.7v-1.2M597.9 88.8v1.2M602.73 139.7v-1.2M602.73 88.8v1.2M607.56 139.7v-1.2M607.56 88.8v1.2M612.4 139.7v-1.2M612.4 88.8v1.2M617.23 139.7v-1.2M617.23 88.8v1.2M622.06 139.7v-1.2M622.06 88.8v1.2M626.89 139.7v-1.2M626.89 88.8v1.2M631.73 139.7v-1.2M631.73 88.8v1.2M636.56 139.7v-1.2M636.56 88.8v1.2M516.9 88.8h1.2M516.9 109.16h1.2M516.9 129.52h1.2M639.7 139.7h-1.2M639.7 114.25h-1.2M639.7 88.8h-1.2" stroke="#a6a6a6" stroke-width="0.6" fill="none"/><text transform="translate(514.5,91.25) scale(1.05,1)" text-anchor="end" font-size="7.0" stroke="#1a1a1a" stroke-width="0.16">0.4</text><text transform="translate(514.5,111.61) scale(1.05,1)" text-anchor="end" font-size="7.0" stroke="#1a1a1a" stroke-width="0.16">0.2</text><text transform="translate(514.5,131.97) scale(1.05,1)" text-anchor="end" font-size="7.0" stroke="#1a1a1a" stroke-width="0.16">0</text><text transform="translate(642.5,91.25) scale(1.05,1)" font-size="7.0" stroke="#1a1a1a" stroke-width="0.16">100</text><text transform="translate(642.5,116.7) scale(1.05,1)" font-size="7.0" stroke="#1a1a1a" stroke-width="0.16">50</text><text transform="translate(642.5,142.15) scale(1.05,1)" font-size="7.0" stroke="#1a1a1a" stroke-width="0.16">0</text><rect x="519.79" y="183.01" width="3.95" height="26.32" fill="#7ef29c" stroke="#555" stroke-width="0.5"/><rect x="524.56" y="199.93" width="3.95" height="9.4" fill="#a4f4b8" stroke="#555" stroke-width="0.5"/><rect x="529.32" y="204.32" width="3.95" height="5.01" fill="#3cb371" stroke="#555" stroke-width="0.5"/><rect x="534.09" y="206.2" width="3.95" height="3.13" fill="#16a83c" stroke="#555" stroke-width="0.5"/><rect x="538.85" y="200.56" width="3.95" height="8.77" fill="#047a1e" stroke="#555" stroke-width="0.5"/><rect x="543.62" y="205.57" width="3.95" height="3.76" fill="#f2f2f2" stroke="#555" stroke-width="0.5"/><rect x="548.38" y="207.45" width="3.95" height="1.88" fill="#d2d2d2" stroke="#555" stroke-width="0.5"/><rect x="553.15" y="187.4" width="3.95" height="21.93" fill="#808080" stroke="#555" stroke-width="0.5"/><rect x="557.91" y="208.58" width="3.95" height="0.75" fill="#474747" stroke="#555" stroke-width="0.5"/><rect x="562.68" y="205.57" width="3.95" height="3.76" fill="#222222" stroke="#555" stroke-width="0.5"/><rect x="567.44" y="207.45" width="3.95" height="1.88" fill="#f5e2b0" stroke="#555" stroke-width="0.5"/><rect x="572.21" y="209.33" width="3.95" height="1.25" fill="#c8b496" stroke="#555" stroke-width="0.5"/><rect x="576.97" y="202.44" width="3.95" height="6.89" fill="#deb887" stroke="#555" stroke-width="0.5"/><rect x="581.74" y="208.58" width="3.95" height="0.75" fill="#d8d8d8" stroke="#555" stroke-width="0.5"/><rect x="586.5" y="209.33" width="3.95" height="2.82" fill="#b4461a" stroke="#555" stroke-width="0.5"/><rect x="591.26" y="195.55" width="3.95" height="13.79" fill="#ffffff" stroke="#555" stroke-width="0.5"/><rect x="596.03" y="209.33" width="3.95" height="1.25" fill="#f08c78" stroke="#555" stroke-width="0.5"/><rect x="600.79" y="200.56" width="3.95" height="8.77" fill="#f01e3c" stroke="#555" stroke-width="0.5"/><rect x="605.56" y="201.81" width="3.95" height="7.52" fill="#d42424" stroke="#555" stroke-width="0.5"/><rect x="610.32" y="203.07" width="3.95" height="6.27" fill="#a01010" stroke="#555" stroke-width="0.5"/><rect x="615.09" y="202.44" width="3.95" height="6.89" fill="#a8e2f8" stroke="#555" stroke-width="0.5"/><rect x="619.85" y="208.58" width="3.95" height="0.75" fill="#60c0c0" stroke="#555" stroke-width="0.5"/><rect x="624.62" y="200.87" width="3.95" height="8.46" fill="#ffffff" stroke="#555" stroke-width="0.5"/><line x1="518.1" x2="639.7" y1="209.33" y2="209.33" stroke="#8a8a8a" stroke-width="0.7"/><rect x="518.1" y="164.4" width="121.6" height="51.2" fill="none" stroke="#a6a6a6" stroke-width="1.25"/><path d="M521.77 215.6v-1.2M521.77 164.4v1.2M526.53 215.6v-1.2M526.53 164.4v1.2M531.3 215.6v-1.2M531.3 164.4v1.2M536.06 215.6v-1.2M536.06 164.4v1.2M540.83 215.6v-1.2M540.83 164.4v1.2M545.59 215.6v-1.2M545.59 164.4v1.2M550.36 215.6v-1.2M550.36 164.4v1.2M555.12 215.6v-1.2M555.12 164.4v1.2M559.89 215.6v-1.2M559.89 164.4v1.2M564.65 215.6v-1.2M564.65 164.4v1.2M569.42 215.6v-1.2M569.42 164.4v1.2M574.18 215.6v-1.2M574.18 164.4v1.2M578.95 215.6v-1.2M578.95 164.4v1.2M583.71 215.6v-1.2M583.71 164.4v1.2M588.48 215.6v-1.2M588.48 164.4v1.2M593.24 215.6v-1.2M593.24 164.4v1.2M598.01 215.6v-1.2M598.01 164.4v1.2M602.77 215.6v-1.2M602.77 164.4v1.2M607.54 215.6v-1.2M607.54 164.4v1.2M612.3 215.6v-1.2M612.3 164.4v1.2M617.07 215.6v-1.2M617.07 164.4v1.2M621.83 215.6v-1.2M621.83 164.4v1.2M626.6 215.6v-1.2M626.6 164.4v1.2M631.36 215.6v-1.2M631.36 164.4v1.2M636.13 215.6v-1.2M636.13 164.4v1.2M518.1 171.73h1.2M639.7 171.73h-1.2M518.1 184.27h1.2M639.7 184.27h-1.2M518.1 196.8h1.2M639.7 196.8h-1.2M518.1 209.33h1.2M639.7 209.33h-1.2" stroke="#a6a6a6" stroke-width="0.6" fill="none"/><text transform="translate(515.7,174.18) scale(1.05,1)" text-anchor="end" font-size="7.0" stroke="#1a1a1a" stroke-width="0.16">0.6</text><text transform="translate(515.7,186.72) scale(1.05,1)" text-anchor="end" font-size="7.0" stroke="#1a1a1a" stroke-width="0.16">0.4</text><text transform="translate(515.7,199.25) scale(1.05,1)" text-anchor="end" font-size="7.0" stroke="#1a1a1a" stroke-width="0.16">0.2</text><text transform="translate(515.7,211.78) scale(1.05,1)" text-anchor="end" font-size="7.0" stroke="#1a1a1a" stroke-width="0.16">0</text><rect x="520.19" y="257.47" width="4.07" height="11.54" fill="#7ef29c" stroke="#555" stroke-width="0.5"/><rect x="525.1" y="257.47" width="4.07" height="11.54" fill="#a4f4b8" stroke="#555" stroke-width="0.5"/><rect x="530.01" y="257.47" width="4.07" height="23.41" fill="#3cb371" stroke="#555" stroke-width="0.5"/><rect x="534.92" y="257.47" width="4.07" height="4.24" fill="#ffffff" stroke="#555" stroke-width="0.5"/><rect x="539.82" y="257.3" width="4.07" height="0.3" fill="#047a1e" stroke="#555" stroke-width="0.5"/><rect x="544.73" y="257.47" width="4.07" height="0.34" fill="#f2f2f2" stroke="#555" stroke-width="0.5"/><rect x="549.64" y="257.47" width="4.07" height="0.51" fill="#d2d2d2" stroke="#555" stroke-width="0.5"/><rect x="554.55" y="257.47" width="4.07" height="1.02" fill="#808080" stroke="#555" stroke-width="0.5"/><rect x="559.45" y="251.53" width="4.07" height="5.94" fill="#474747" stroke="#555" stroke-width="0.5"/><rect x="564.36" y="257.47" width="4.07" height="5.77" fill="#222222" stroke="#555" stroke-width="0.5"/><rect x="569.27" y="257.47" width="4.07" height="0.34" fill="#f5e2b0" stroke="#555" stroke-width="0.5"/><rect x="574.18" y="255.77" width="4.07" height="1.7" fill="#f0c080" stroke="#555" stroke-width="0.5"/><rect x="579.08" y="254.75" width="4.07" height="2.71" fill="#ffffff" stroke="#555" stroke-width="0.5"/><rect x="583.99" y="255.77" width="4.07" height="1.7" fill="#ffffff" stroke="#555" stroke-width="0.5"/><rect x="588.9" y="257.47" width="4.07" height="9.84" fill="#b4461a" stroke="#555" stroke-width="0.5"/><rect x="593.81" y="257.47" width="4.07" height="4.24" fill="#ffb4be" stroke="#555" stroke-width="0.5"/><rect x="598.71" y="257.47" width="4.07" height="17.31" fill="#f88a6c" stroke="#555" stroke-width="0.5"/><rect x="603.62" y="249.49" width="4.07" height="7.97" fill="#f01e3c" stroke="#555" stroke-width="0.5"/><rect x="608.53" y="245.59" width="4.07" height="11.88" fill="#d42424" stroke="#555" stroke-width="0.5"/><rect x="613.44" y="245.25" width="4.07" height="12.22" fill="#a01010" stroke="#555" stroke-width="0.5"/><rect x="618.34" y="246.95" width="4.07" height="10.52" fill="#a8e2f8" stroke="#555" stroke-width="0.5"/><rect x="623.25" y="247.8" width="4.07" height="9.67" fill="#80dcec" stroke="#555" stroke-width="0.5"/><rect x="628.16" y="257.47" width="4.07" height="0.34" fill="#ffffff" stroke="#555" stroke-width="0.5"/><line x1="518.5" x2="643.2" y1="257.47" y2="257.47" stroke="#8a8a8a" stroke-width="0.7"/><rect x="518.5" y="240.5" width="124.7" height="50.9" fill="none" stroke="#a6a6a6" stroke-width="1.25"/><path d="M522.23 291.4v-1.2M522.23 240.5v1.2M527.14 291.4v-1.2M527.14 240.5v1.2M532.04 291.4v-1.2M532.04 240.5v1.2M536.95 291.4v-1.2M536.95 240.5v1.2M541.86 291.4v-1.2M541.86 240.5v1.2M546.77 291.4v-1.2M546.77 240.5v1.2M551.67 291.4v-1.2M551.67 240.5v1.2M556.58 291.4v-1.2M556.58 240.5v1.2M561.49 291.4v-1.2M561.49 240.5v1.2M566.4 291.4v-1.2M566.4 240.5v1.2M571.3 291.4v-1.2M571.3 240.5v1.2M576.21 291.4v-1.2M576.21 240.5v1.2M581.12 291.4v-1.2M581.12 240.5v1.2M586.03 291.4v-1.2M586.03 240.5v1.2M590.93 291.4v-1.2M590.93 240.5v1.2M595.84 291.4v-1.2M595.84 240.5v1.2M600.75 291.4v-1.2M600.75 240.5v1.2M605.66 291.4v-1.2M605.66 240.5v1.2M610.57 291.4v-1.2M610.57 240.5v1.2M615.47 291.4v-1.2M615.47 240.5v1.2M620.38 291.4v-1.2M620.38 240.5v1.2M625.29 291.4v-1.2M625.29 240.5v1.2M630.2 291.4v-1.2M630.2 240.5v1.2M635.1 291.4v-1.2M635.1 240.5v1.2M640.01 291.4v-1.2M640.01 240.5v1.2M518.5 240.5h1.2M643.2 240.5h-1.2M518.5 257.47h1.2M643.2 257.47h-1.2M518.5 274.43h1.2M643.2 274.43h-1.2M518.5 291.4h1.2M643.2 291.4h-1.2" stroke="#a6a6a6" stroke-width="0.6" fill="none"/><text transform="translate(516.1,242.95) scale(1.05,1)" text-anchor="end" font-size="7.0" stroke="#1a1a1a" stroke-width="0.16">5</text><text transform="translate(516.1,259.92) scale(1.05,1)" text-anchor="end" font-size="7.0" stroke="#1a1a1a" stroke-width="0.16">0</text><text transform="translate(516.1,276.88) scale(1.05,1)" text-anchor="end" font-size="7.0" stroke="#1a1a1a" stroke-width="0.16">-5</text><text transform="translate(516.1,293.85) scale(1.05,1)" text-anchor="end" font-size="7.0" stroke="#1a1a1a" stroke-width="0.16">-10</text><text x="518.2" y="238.5" font-size="7.6">×10<tspan dy="-2.8" font-size="5">-5</tspan></text><text transform="translate(524.43,293.8) rotate(-90)" text-anchor="end" font-size="6.4" stroke="#1a1a1a" stroke-width="0.1">1</text><text transform="translate(529.34,293.8) rotate(-90)" text-anchor="end" font-size="6.4" stroke="#1a1a1a" stroke-width="0.1">2</text><text transform="translate(534.24,293.8) rotate(-90)" text-anchor="end" font-size="6.4" stroke="#1a1a1a" stroke-width="0.1">3</text><text transform="translate(539.15,293.8) rotate(-90)" text-anchor="end" font-size="6.4" stroke="#1a1a1a" stroke-width="0.1">4</text><text transform="translate(544.06,293.8) rotate(-90)" text-anchor="end" font-size="6.4" stroke="#1a1a1a" stroke-width="0.1">5</text><text transform="translate(548.97,293.8) rotate(-90)" text-anchor="end" font-size="6.4" stroke="#1a1a1a" stroke-width="0.1">6</text><text transform="translate(553.87,293.8) rotate(-90)" text-anchor="end" font-size="6.4" stroke="#1a1a1a" stroke-width="0.1">7</text><text transform="translate(558.78,293.8) rotate(-90)" text-anchor="end" font-size="6.4" stroke="#1a1a1a" stroke-width="0.1">8</text><text transform="translate(563.69,293.8) rotate(-90)" text-anchor="end" font-size="6.4" stroke="#1a1a1a" stroke-width="0.1">9</text><text transform="translate(568.6,293.8) rotate(-90)" text-anchor="end" font-size="6.4" stroke="#1a1a1a" stroke-width="0.1">10</text><text transform="translate(573.5,293.8) rotate(-90)" text-anchor="end" font-size="6.4" stroke="#1a1a1a" stroke-width="0.1">11</text><text transform="translate(578.41,293.8) rotate(-90)" text-anchor="end" font-size="6.4" stroke="#1a1a1a" stroke-width="0.1">12</text><text transform="translate(583.32,293.8) rotate(-90)" text-anchor="end" font-size="6.4" stroke="#1a1a1a" stroke-width="0.1">13</text><text transform="translate(588.23,293.8) rotate(-90)" text-anchor="end" font-size="6.4" stroke="#1a1a1a" stroke-width="0.1">14</text><text transform="translate(593.13,293.8) rotate(-90)" text-anchor="end" font-size="6.4" stroke="#1a1a1a" stroke-width="0.1">15</text><text transform="translate(598.04,293.8) rotate(-90)" text-anchor="end" font-size="6.4" stroke="#1a1a1a" stroke-width="0.1">16</text><text transform="translate(602.95,293.8) rotate(-90)" text-anchor="end" font-size="6.4" stroke="#1a1a1a" stroke-width="0.1">17</text><text transform="translate(607.86,293.8) rotate(-90)" text-anchor="end" font-size="6.4" stroke="#1a1a1a" stroke-width="0.1">18</text><text transform="translate(612.77,293.8) rotate(-90)" text-anchor="end" font-size="6.4" stroke="#1a1a1a" stroke-width="0.1">19</text><text transform="translate(617.67,293.8) rotate(-90)" text-anchor="end" font-size="6.4" stroke="#1a1a1a" stroke-width="0.1">20</text><text transform="translate(622.58,293.8) rotate(-90)" text-anchor="end" font-size="6.4" stroke="#1a1a1a" stroke-width="0.1">21</text><text transform="translate(627.49,293.8) rotate(-90)" text-anchor="end" font-size="6.4" stroke="#1a1a1a" stroke-width="0.1">22</text><text transform="translate(632.4,293.8) rotate(-90)" text-anchor="end" font-size="6.4" stroke="#1a1a1a" stroke-width="0.1">23</text><text transform="translate(637.3,293.8) rotate(-90)" text-anchor="end" font-size="6.4" stroke="#1a1a1a" stroke-width="0.1">24</text><text transform="translate(642.21,293.8) rotate(-90)" text-anchor="end" font-size="6.4" stroke="#1a1a1a" stroke-width="0.1">25</text><text transform="translate(10.0,41.88) rotate(-90) scale(1.03,1)" text-anchor="middle" font-size="12.5" stroke="#1a1a1a" stroke-width="0.18"><tspan font-style="italic">d</tspan>(<tspan font-style="italic">SWA</tspan>)</text><line x1="13.45" x2="13.45" y1="20.1" y2="63.7" stroke="#1a1a1a" stroke-width="0.9"/><text transform="translate(26.56,42.22) rotate(-90) scale(1.0,1)" text-anchor="middle" font-size="12.5" stroke="#1a1a1a" stroke-width="0.18"><tspan font-style="italic">d</tspan>(<tspan font-style="italic">t</tspan>)<tspan font-style="italic">SWA</tspan></text><line x1="16.4" x2="16.4" y1="20.0" y2="41.0" stroke="#1a1a1a" stroke-width="0.7"/><text transform="translate(43.0,41.82) rotate(-90) scale(1.012,1)" text-anchor="middle" font-size="12.7" stroke="#1a1a1a" stroke-width="0.18">(year<tspan dy="-4.57" font-size="8.89">−1</tspan><tspan dy="4.57">)</tspan></text><text transform="translate(11.16,112.24) rotate(-90) scale(1.028,1)" text-anchor="middle" font-size="12.5" stroke="#1a1a1a" stroke-width="0.18"><tspan font-style="italic">d</tspan>(<tspan font-style="italic">SWA</tspan>)</text><line x1="14.5" x2="14.5" y1="92.1" y2="131.6" stroke="#1a1a1a" stroke-width="0.9"/><text transform="translate(26.04,112.54) rotate(-90) scale(1.056,1)" text-anchor="middle" font-size="12.5" stroke="#1a1a1a" stroke-width="0.18"><tspan font-style="italic">d</tspan>(<tspan font-style="italic">t</tspan>)</text><text transform="translate(42.32,112.08) rotate(-90) scale(0.984,1)" text-anchor="middle" font-size="12.7" stroke="#1a1a1a" stroke-width="0.18">(km<tspan dy="-4.57" font-size="8.89">3</tspan><tspan dy="4.57">/year)</tspan></text><text transform="translate(11.72,187.58) rotate(-90) scale(1.03,1)" text-anchor="middle" font-size="12.5" stroke="#1a1a1a" stroke-width="0.18"><tspan font-style="italic">d</tspan>(<tspan font-style="italic">SWA</tspan>)</text><line x1="15.3" x2="15.3" y1="168.0" y2="206.9" stroke="#1a1a1a" stroke-width="0.9"/><text transform="translate(26.94,187.56) rotate(-90) scale(1.012,1)" text-anchor="middle" font-size="12.5" stroke="#1a1a1a" stroke-width="0.18"><tspan font-style="italic">d</tspan>(<tspan font-style="italic">elev</tspan>)</text><text transform="translate(41.84,187.7) rotate(-90) scale(0.969,1)" text-anchor="middle" font-size="12.7" stroke="#1a1a1a" stroke-width="0.18">(mm/m)</text><text transform="translate(12.58,264.08) rotate(-90) scale(1.038,1)" text-anchor="middle" font-size="12.5" stroke="#1a1a1a" stroke-width="0.18"><tspan font-style="italic">d</tspan><tspan dy="-4.50" font-size="8.75">2</tspan><tspan dy="4.50">(<tspan font-style="italic">SWA</tspan>)</tspan></text><line x1="15.6" x2="15.6" y1="236.5" y2="291.5" stroke="#1a1a1a" stroke-width="0.9"/><text transform="translate(27.46,263.78) rotate(-90) scale(1.025,1)" text-anchor="middle" font-size="12.5" stroke="#1a1a1a" stroke-width="0.18"><tspan font-style="italic">d</tspan>(<tspan font-style="italic">t</tspan>)<tspan font-style="italic">d</tspan>(<tspan font-style="italic">elev</tspan>)</text><text transform="translate(41.22,263.76) rotate(-90) scale(0.968,1)" text-anchor="middle" font-size="12.7" stroke="#1a1a1a" stroke-width="0.18">(mm/year.m)</text><text transform="translate(675.0,115.0) rotate(90) scale(1.0,1)" text-anchor="middle" font-size="12.5">Trend</text><text transform="translate(659.0,114.5) rotate(90) scale(1.0,1)" text-anchor="middle" font-size="12.7">categories(%)</text><text x="354.8" y="325.5" text-anchor="middle" font-size="17.9">Drainage regions</text></svg>
</body></html>
